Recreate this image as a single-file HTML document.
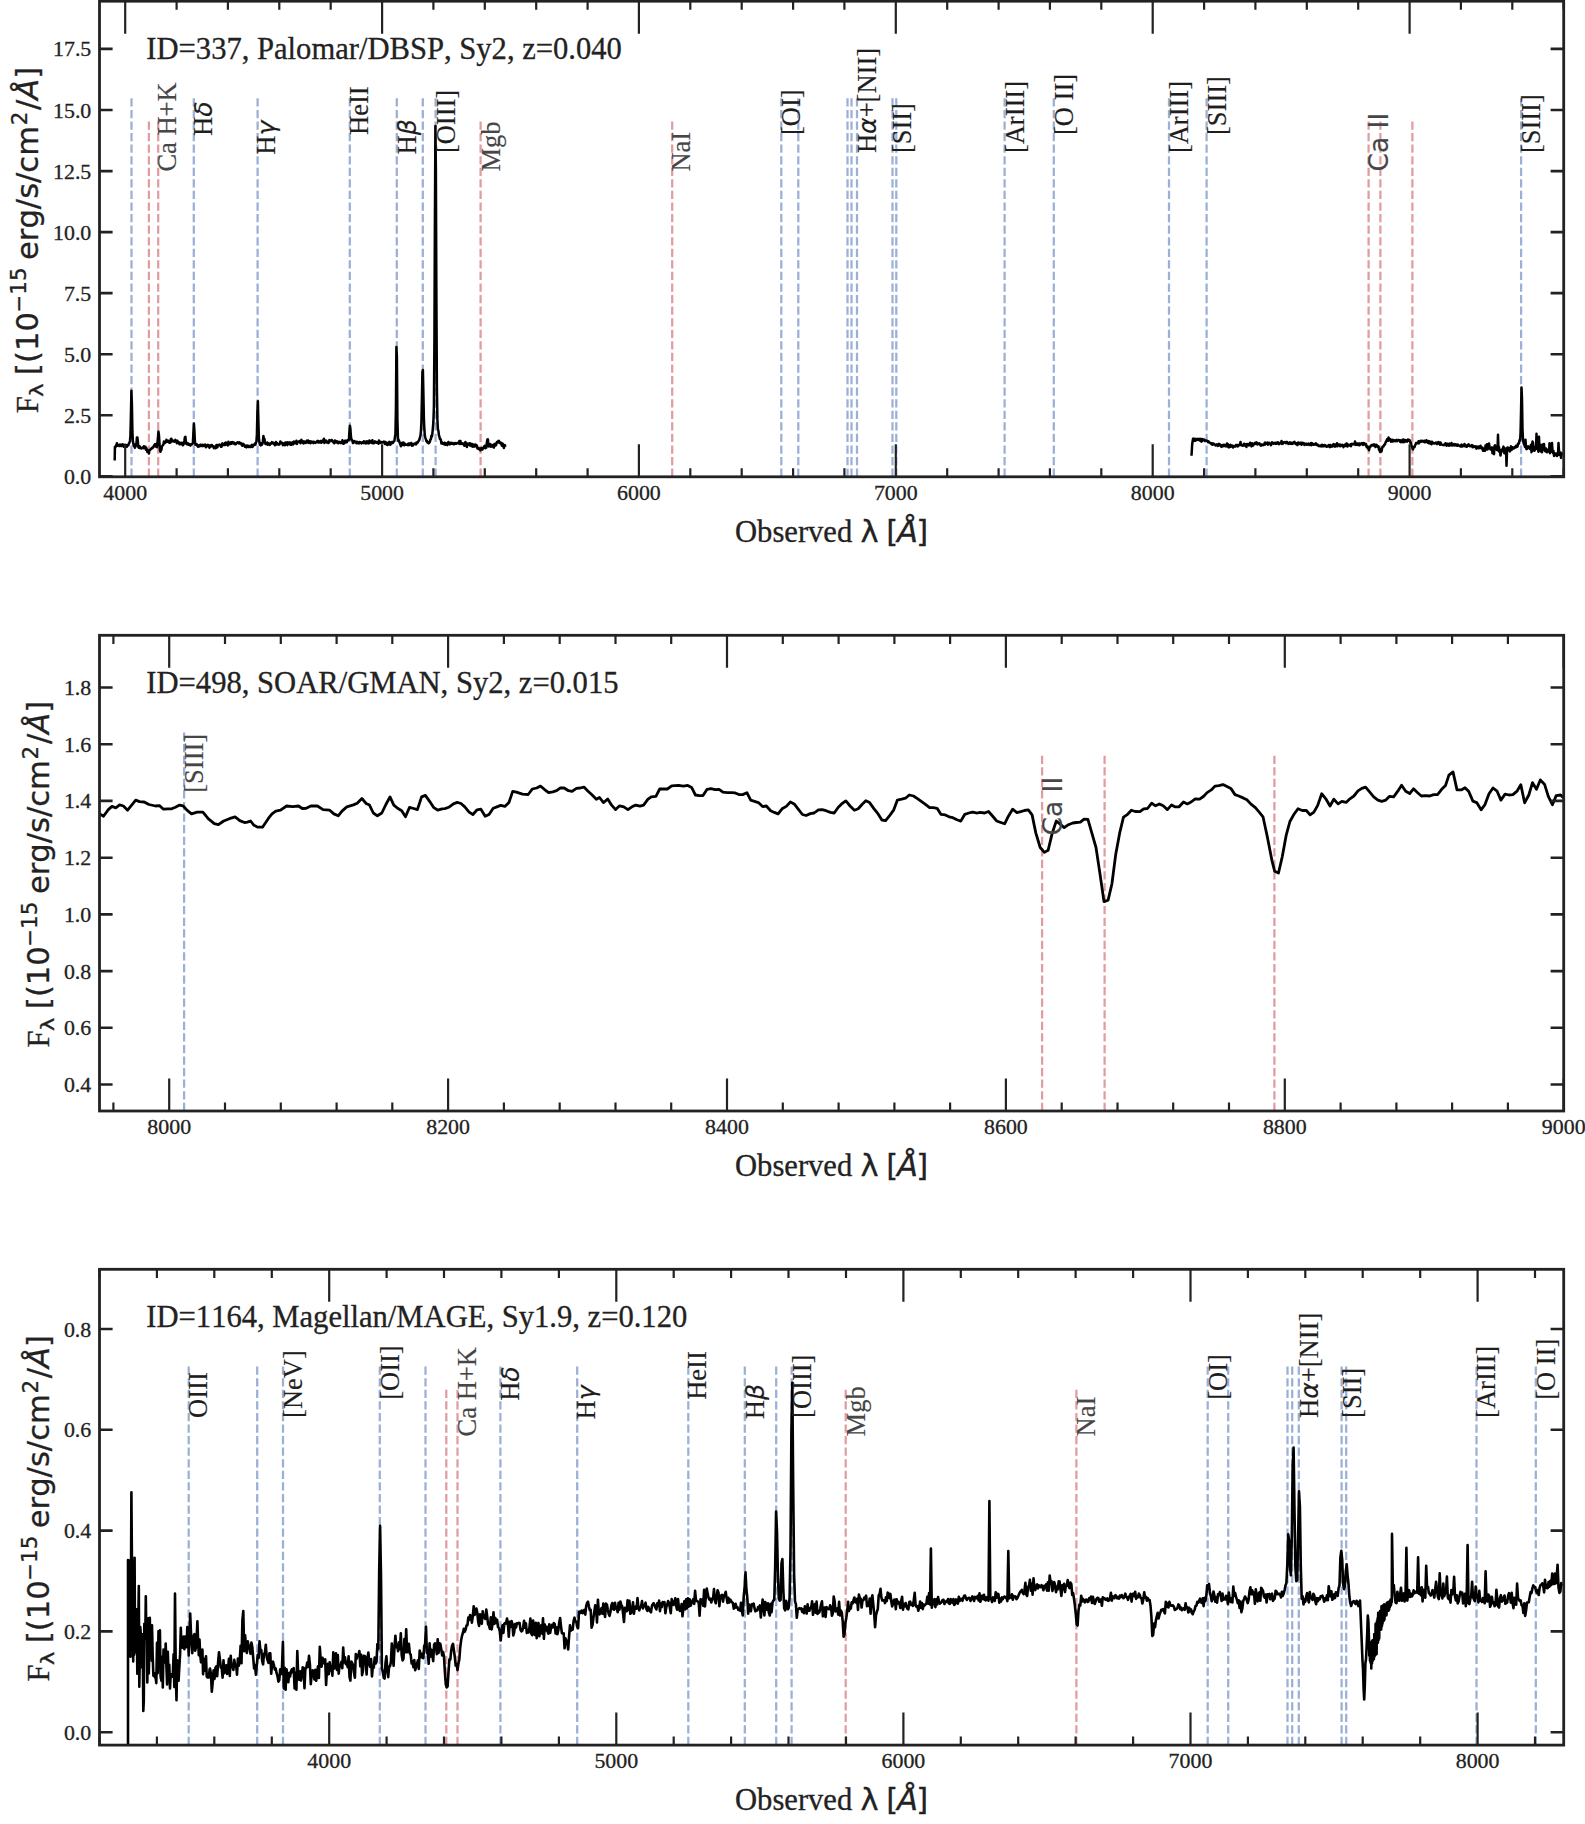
<!DOCTYPE html>
<html lang="en"><head><meta charset="utf-8"><title>Optical spectra</title>
<style>html,body{margin:0;padding:0;background:#fff}svg{display:block}text{fill:#222;stroke:#222;stroke-width:.3px;font-kerning:none}</style></head><body>
<svg width="1585" height="1824" viewBox="0 0 1585 1824">
<rect width="1585" height="1824" fill="#fff"/>
<g id="panel1">
<clipPath id="clip0"><rect x="99.5" y="1.2" width="1464.2" height="475.6"/></clipPath>
<path d="M131.5 476.8 V98.2M193.8 476.8 V98.2M257.6 476.8 V98.2M349.8 476.8 V98.2M396.8 476.8 V98.2M422.8 476.8 V98.2M435.6 476.8 V98.2M781.3 476.8 V98.2M798.3 476.8 V98.2M847.5 476.8 V98.2M851.5 476.8 V98.2M857.0 476.8 V98.2M892.5 476.8 V98.2M896.3 476.8 V98.2M1004.6 476.8 V98.2M1053.8 476.8 V98.2M1169.0 476.8 V98.2M1206.6 476.8 V98.2M1521.1 476.8 V98.2" stroke="#9bb0d6" stroke-width="2.25" stroke-dasharray="8.25 3.32" fill="none"/>
<path d="M148.9 476.8 V120.8M158.2 476.8 V120.8M480.6 476.8 V120.8M672.2 476.8 V120.8M1368.6 476.8 V120.8M1380.4 476.8 V120.8M1412.4 476.8 V120.8" stroke="#e09ca1" stroke-width="2.25" stroke-dasharray="8.25 3.32" fill="none"/>
<path clip-path="url(#clip0)" d="M114.7 460.5L114.9 447.0L115.4 447.4L115.9 445.5L116.4 445.3L116.9 443.3L117.4 445.7L117.9 445.4L118.4 445.1L118.9 445.9L119.4 446.0L119.9 444.6L120.4 444.7L120.9 445.1L121.4 446.1L121.9 446.0L122.4 444.3L122.9 444.4L123.4 446.0L123.9 446.8L124.4 445.3L124.9 444.7L125.4 446.3L125.9 445.0L126.4 446.0L126.9 446.7L127.4 445.7L127.9 445.0L128.4 445.2L128.9 443.3L129.4 442.8L129.9 441.0L130.4 436.3L130.9 415.4L131.4 390.8L131.9 403.7L132.4 431.4L132.9 441.5L133.4 443.9L133.9 446.1L134.4 444.4L134.9 447.7L135.4 446.7L135.9 445.7L136.4 443.8L136.9 437.5L137.4 437.4L137.9 442.1L138.4 447.1L138.9 447.7L139.4 446.2L139.9 446.7L140.4 448.3L140.9 448.2L141.4 448.5L141.9 447.9L142.4 447.7L142.9 447.3L143.4 448.2L143.9 446.3L144.4 447.2L144.9 448.1L145.4 446.7L145.9 449.8L146.4 448.3L146.9 449.4L147.4 452.1L147.9 450.2L148.4 451.2L148.9 453.5L149.4 450.2L149.9 449.8L150.4 449.7L150.9 449.0L151.4 448.6L151.9 447.9L152.4 448.3L152.9 447.5L153.4 446.9L153.9 445.6L154.4 445.5L154.9 444.2L155.4 446.4L155.9 444.0L156.4 446.3L156.9 447.1L157.4 443.3L157.9 438.5L158.4 431.5L158.9 434.4L159.4 442.2L159.9 449.7L160.4 451.7L160.9 450.7L161.4 449.7L161.9 446.2L162.4 445.9L162.9 445.0L163.4 444.5L163.9 441.6L164.4 443.3L164.9 442.4L165.4 442.6L165.9 441.6L166.4 439.8L166.9 440.5L167.4 441.7L167.9 441.0L168.4 440.8L168.9 442.5L169.4 442.8L169.9 440.7L170.4 442.5L170.9 438.9L171.4 438.8L171.9 441.4L172.4 440.4L172.9 441.3L173.4 441.3L173.9 440.9L174.4 441.7L174.9 441.3L175.4 439.9L175.9 441.6L176.4 441.6L176.9 443.2L177.4 440.8L177.9 442.1L178.4 441.9L178.9 442.4L179.4 444.3L179.9 443.4L180.4 442.9L180.9 443.7L181.4 444.3L181.9 442.8L182.4 443.5L182.9 445.2L183.4 444.6L183.9 443.4L184.4 440.8L184.9 437.3L185.4 436.7L185.9 442.9L186.4 444.1L186.9 444.2L187.4 443.0L187.9 443.5L188.4 444.8L188.9 444.7L189.4 444.1L189.9 445.1L190.4 445.6L190.9 444.3L191.4 444.6L191.9 444.4L192.4 443.9L192.9 442.9L193.4 432.3L193.9 423.5L194.4 430.7L194.9 441.2L195.4 444.8L195.9 444.7L196.4 445.2L196.9 444.4L197.4 445.7L197.9 446.7L198.4 446.4L198.9 446.5L199.4 445.1L199.9 445.8L200.4 444.7L200.9 446.0L201.4 444.9L201.9 444.9L202.4 444.8L202.9 446.1L203.4 445.8L203.9 445.8L204.4 444.7L204.9 445.9L205.4 444.6L205.9 447.3L206.4 445.9L206.9 446.3L207.4 446.1L207.9 444.9L208.4 445.1L208.9 446.3L209.4 447.7L209.9 445.4L210.4 445.8L210.9 446.5L211.4 445.0L211.9 445.1L212.4 446.2L212.9 446.6L213.4 446.3L213.9 448.1L214.4 446.6L214.9 447.1L215.4 448.2L215.9 448.1L216.4 445.1L216.9 446.1L217.4 447.3L217.9 444.9L218.4 445.2L218.9 444.8L219.4 444.6L219.9 444.7L220.4 445.8L220.9 446.7L221.4 446.8L221.9 445.3L222.4 443.4L222.9 445.0L223.4 444.7L223.9 445.2L224.4 444.6L224.9 443.0L225.4 444.9L225.9 442.5L226.4 443.7L226.9 444.5L227.4 444.4L227.9 445.4L228.4 441.7L228.9 444.0L229.4 444.2L229.9 443.2L230.4 443.9L230.9 442.3L231.4 443.7L231.9 443.5L232.4 442.1L232.9 442.4L233.4 442.9L233.9 442.5L234.4 444.0L234.9 443.2L235.4 444.3L235.9 444.2L236.4 443.2L236.9 442.9L237.4 442.3L237.9 442.4L238.4 442.4L238.9 443.5L239.4 442.4L239.9 443.3L240.4 443.5L240.9 443.1L241.4 443.6L241.9 445.3L242.4 445.7L242.9 443.8L243.4 444.5L243.9 444.6L244.4 444.9L244.9 446.7L245.4 446.2L245.9 446.9L246.4 447.4L246.9 445.5L247.4 445.7L247.9 446.0L248.4 446.9L248.9 445.9L249.4 446.6L249.9 447.1L250.4 447.1L250.9 446.5L251.4 445.4L251.9 444.8L252.4 447.1L252.9 446.4L253.4 445.0L253.9 445.2L254.4 445.0L254.9 443.5L255.4 444.6L255.9 442.9L256.4 441.7L256.9 434.4L257.4 411.4L257.9 401.3L258.4 421.7L258.9 438.1L259.4 442.3L259.9 444.8L260.4 443.5L260.9 445.4L261.4 443.3L261.9 444.7L262.4 443.8L262.9 441.2L263.4 436.1L263.9 438.6L264.4 438.8L264.9 441.9L265.4 443.9L265.9 444.0L266.4 444.2L266.9 443.7L267.4 442.6L267.9 444.7L268.4 443.1L268.9 444.1L269.4 444.3L269.9 444.9L270.4 443.6L270.9 443.5L271.4 443.6L271.9 442.1L272.4 443.1L272.9 442.9L273.4 442.7L273.9 443.9L274.4 443.5L274.9 445.2L275.4 445.1L275.9 442.1L276.4 443.9L276.9 442.8L277.4 444.2L277.9 443.9L278.4 444.6L278.9 444.0L279.4 444.4L279.9 443.4L280.4 441.4L280.9 442.6L281.4 442.9L281.9 443.3L282.4 442.8L282.9 445.2L283.4 443.5L283.9 444.8L284.4 443.4L284.9 445.2L285.4 442.6L285.9 444.2L286.4 442.5L286.9 444.0L287.4 445.1L287.9 442.2L288.4 442.8L288.9 443.8L289.4 443.5L289.9 442.4L290.4 444.7L290.9 443.7L291.4 444.8L291.9 443.9L292.4 442.4L292.9 442.8L293.4 444.3L293.9 441.6L294.4 442.2L294.9 443.0L295.4 443.2L295.9 442.8L296.4 440.7L296.9 443.9L297.4 441.8L297.9 442.0L298.4 442.0L298.9 441.8L299.4 441.1L299.9 441.7L300.4 443.2L300.9 440.7L301.4 439.8L301.9 442.4L302.4 442.3L302.9 442.6L303.4 443.5L303.9 441.3L304.4 442.1L304.9 442.4L305.4 443.1L305.9 442.9L306.4 441.2L306.9 440.7L307.4 441.7L307.9 440.5L308.4 442.9L308.9 441.6L309.4 441.6L309.9 441.1L310.4 443.3L310.9 442.2L311.4 441.5L311.9 442.5L312.4 441.8L312.9 442.4L313.4 443.1L313.9 441.7L314.4 442.4L314.9 442.3L315.4 442.9L315.9 442.4L316.4 441.9L316.9 441.3L317.4 442.1L317.9 440.9L318.4 442.5L318.9 441.9L319.4 442.4L319.9 441.4L320.4 441.1L320.9 441.0L321.4 442.8L321.9 441.7L322.4 441.6L322.9 440.2L323.4 441.8L323.9 438.7L324.4 443.1L324.9 441.6L325.4 441.8L325.9 440.5L326.4 440.8L326.9 442.4L327.4 441.6L327.9 442.2L328.4 443.0L328.9 442.4L329.4 440.1L329.9 440.9L330.4 440.8L330.9 441.0L331.4 440.0L331.9 440.0L332.4 441.2L332.9 441.4L333.4 442.4L333.9 441.7L334.4 443.3L334.9 440.4L335.4 440.8L335.9 442.3L336.4 441.8L336.9 441.2L337.4 442.8L337.9 443.1L338.4 443.3L338.9 441.8L339.4 442.2L339.9 442.4L340.4 442.3L340.9 443.2L341.4 441.8L341.9 442.6L342.4 440.3L342.9 443.0L343.4 443.8L343.9 442.3L344.4 443.3L344.9 440.8L345.4 442.0L345.9 440.8L346.4 442.3L346.9 442.3L347.4 440.3L347.9 440.4L348.4 440.0L348.9 440.1L349.4 431.3L349.9 425.7L350.4 428.7L350.9 436.0L351.4 439.6L351.9 439.8L352.4 440.8L352.9 443.1L353.4 442.1L353.9 441.7L354.4 441.0L354.9 442.2L355.4 442.3L355.9 441.8L356.4 443.2L356.9 441.8L357.4 442.2L357.9 443.1L358.4 442.6L358.9 443.4L359.4 442.2L359.9 442.0L360.4 442.8L360.9 442.5L361.4 443.4L361.9 442.7L362.4 442.3L362.9 442.8L363.4 442.9L363.9 441.3L364.4 442.2L364.9 442.0L365.4 443.4L365.9 441.9L366.4 443.3L366.9 441.2L367.4 442.3L367.9 443.3L368.4 442.1L368.9 443.4L369.4 440.5L369.9 442.4L370.4 442.5L370.9 442.2L371.4 441.0L371.9 442.9L372.4 440.2L372.9 443.2L373.4 442.6L373.9 443.2L374.4 442.1L374.9 441.3L375.4 441.8L375.9 441.9L376.4 442.8L376.9 442.0L377.4 442.7L377.9 442.7L378.4 443.6L378.9 440.5L379.4 441.9L379.9 442.9L380.4 443.0L380.9 441.9L381.4 442.2L381.9 442.4L382.4 442.6L382.9 442.0L383.4 442.0L383.9 441.6L384.4 442.3L384.9 443.9L385.4 441.9L385.9 443.6L386.4 444.5L386.9 443.0L387.4 445.0L387.9 442.8L388.4 444.5L388.9 442.9L389.4 441.9L389.9 443.4L390.4 444.8L390.9 442.6L391.4 443.5L391.9 442.1L392.4 442.1L392.9 443.0L393.4 441.8L393.9 441.5L394.4 440.9L394.9 437.2L395.4 434.5L395.9 410.5L396.4 347.0L396.9 356.7L397.4 419.2L397.9 437.1L398.4 441.1L398.9 440.3L399.4 442.0L399.9 443.3L400.4 444.6L400.9 446.2L401.4 443.3L401.9 442.9L402.4 444.6L402.9 444.9L403.4 442.4L403.9 443.8L404.4 445.2L404.9 443.8L405.4 444.7L405.9 444.4L406.4 444.8L406.9 444.5L407.4 444.3L407.9 445.2L408.4 443.5L408.9 444.1L409.4 444.9L409.9 443.4L410.4 443.5L410.9 443.2L411.4 443.0L411.9 445.7L412.4 444.3L412.9 445.5L413.4 444.5L413.9 443.9L414.4 443.5L414.9 443.9L415.4 443.6L415.9 444.4L416.4 442.6L416.9 443.2L417.4 443.1L417.9 441.9L418.4 441.1L418.9 440.8L419.4 439.5L419.9 437.5L420.4 435.8L420.9 431.8L421.4 422.4L421.9 398.9L422.4 372.0L422.9 370.0L423.4 393.9L423.9 418.6L424.4 430.2L424.9 436.0L425.4 437.8L425.9 439.3L426.4 441.3L426.9 440.7L427.4 442.3L427.9 442.0L428.4 443.3L428.9 443.3L429.4 442.3L429.9 441.8L430.4 439.4L430.9 439.2L431.4 435.8L431.9 436.5L432.4 433.1L432.9 427.7L433.4 421.7L433.9 406.7L434.4 341.3L434.9 220.6L435.4 126.1L435.9 171.4L436.4 297.6L436.9 388.4L437.4 419.5L437.9 429.3L438.4 430.7L438.9 435.2L439.4 436.5L439.9 439.1L440.4 438.9L440.9 440.1L441.4 443.6L441.9 442.2L442.4 443.4L442.9 443.7L443.4 443.3L443.9 444.3L444.4 442.8L444.9 443.0L445.4 444.8L445.9 443.2L446.4 444.5L446.9 444.4L447.4 445.1L447.9 444.0L448.4 441.9L448.9 442.9L449.4 443.0L449.9 444.4L450.4 443.6L450.9 442.8L451.4 443.7L451.9 442.9L452.4 443.7L452.9 443.4L453.4 444.2L453.9 443.5L454.4 444.1L454.9 443.1L455.4 443.8L455.9 443.0L456.4 443.7L456.9 443.3L457.4 443.0L457.9 442.7L458.4 442.8L458.9 443.5L459.4 441.0L459.9 444.1L460.4 440.9L460.9 443.0L461.4 442.9L461.9 444.0L462.4 443.6L462.9 443.4L463.4 443.6L463.9 444.5L464.4 445.8L464.9 444.1L465.4 442.0L465.9 443.6L466.4 444.4L466.9 447.1L467.4 443.5L467.9 443.9L468.4 444.8L468.9 444.7L469.4 443.3L469.9 445.4L470.4 443.5L470.9 444.6L471.4 446.1L471.9 443.9L472.4 444.9L472.9 446.8L473.4 445.2L473.9 444.6L474.4 445.1L474.9 446.5L475.4 444.4L475.9 445.4L476.4 445.1L476.9 445.8L477.4 448.5L477.9 447.7L478.4 447.9L478.9 449.1L479.4 448.6L479.9 448.6L480.4 450.4L480.9 449.9L481.4 448.0L481.9 449.1L482.4 449.5L482.9 448.3L483.4 448.2L483.9 446.5L484.4 447.4L484.9 445.7L485.4 448.3L485.9 447.0L486.4 447.5L486.9 442.2L487.4 439.6L487.9 439.2L488.4 444.3L488.9 446.4L489.4 446.2L489.9 445.6L490.4 444.1L490.9 446.7L491.4 446.1L491.9 446.4L492.4 446.4L492.9 445.0L493.4 445.6L493.9 447.6L494.4 444.1L494.9 444.9L495.4 443.7L495.9 445.4L496.4 443.6L496.9 442.1L497.4 442.5L497.9 441.8L498.4 441.1L498.9 440.7L499.4 442.6L499.9 442.3L500.4 443.5L500.9 442.6L501.4 443.9L501.9 445.8L502.4 443.5L502.9 443.9L503.4 446.3L503.9 448.0L504.4 445.4L504.9 445.1L505.4 446.8" stroke="#000" stroke-width="2.50" fill="none" stroke-linejoin="round" stroke-linecap="butt"/>
<path clip-path="url(#clip0)" d="M1191.5 455.7L1192.2 444.0L1193.0 439.0L1193.5 438.5L1194.0 440.9L1194.5 438.9L1195.0 439.4L1195.5 440.7L1196.0 438.9L1196.5 439.2L1197.0 439.9L1197.5 439.5L1198.0 438.8L1198.5 439.7L1199.0 439.6L1199.5 440.4L1200.0 438.7L1200.5 439.5L1201.0 441.0L1201.5 441.6L1202.0 438.9L1202.5 440.7L1203.0 439.4L1203.5 439.5L1204.0 439.6L1204.5 440.0L1205.0 441.1L1205.5 440.9L1206.0 440.4L1206.5 440.4L1207.0 441.0L1207.5 441.2L1208.0 442.2L1208.5 441.4L1209.0 442.2L1209.5 442.4L1210.0 442.8L1210.5 443.2L1211.0 443.3L1211.5 444.3L1212.0 443.4L1212.5 444.8L1213.0 443.5L1213.5 443.5L1214.0 444.2L1214.5 444.5L1215.0 444.6L1215.5 445.5L1216.0 445.4L1216.5 445.0L1217.0 444.3L1217.5 444.6L1218.0 445.9L1218.5 445.0L1219.0 443.8L1219.5 444.3L1220.0 444.5L1220.5 445.9L1221.0 445.0L1221.5 446.9L1222.0 445.7L1222.5 445.3L1223.0 444.9L1223.5 446.1L1224.0 445.2L1224.5 444.8L1225.0 445.9L1225.5 445.5L1226.0 446.5L1226.5 445.6L1227.0 443.4L1227.5 446.4L1228.0 444.3L1228.5 447.1L1229.0 447.4L1229.5 445.6L1230.0 445.1L1230.5 444.8L1231.0 446.6L1231.5 445.7L1232.0 445.4L1232.5 445.6L1233.0 447.5L1233.5 446.0L1234.0 446.3L1234.5 446.3L1235.0 446.5L1235.5 446.5L1236.0 445.0L1236.5 445.4L1237.0 444.9L1237.5 444.9L1238.0 446.4L1238.5 445.0L1239.0 445.3L1239.5 444.8L1240.0 444.9L1240.5 441.9L1241.0 444.9L1241.5 444.8L1242.0 445.6L1242.5 445.6L1243.0 445.8L1243.5 445.2L1244.0 443.7L1244.5 445.5L1245.0 445.4L1245.5 445.8L1246.0 444.3L1246.5 446.9L1247.0 443.9L1247.5 445.4L1248.0 444.8L1248.5 444.4L1249.0 445.4L1249.5 444.5L1250.0 442.8L1250.5 443.7L1251.0 445.0L1251.5 446.4L1252.0 443.3L1252.5 444.5L1253.0 445.6L1253.5 444.9L1254.0 444.1L1254.5 443.2L1255.0 442.9L1255.5 443.7L1256.0 444.0L1256.5 442.4L1257.0 442.8L1257.5 444.4L1258.0 443.8L1258.5 443.5L1259.0 443.7L1259.5 443.4L1260.0 444.7L1260.5 445.3L1261.0 445.6L1261.5 444.5L1262.0 444.5L1262.5 445.0L1263.0 445.2L1263.5 445.0L1264.0 444.8L1264.5 443.3L1265.0 442.5L1265.5 444.4L1266.0 443.6L1266.5 443.6L1267.0 442.9L1267.5 442.6L1268.0 444.7L1268.5 443.9L1269.0 442.7L1269.5 443.8L1270.0 443.7L1270.5 443.9L1271.0 445.2L1271.5 443.4L1272.0 442.4L1272.5 443.4L1273.0 442.8L1273.5 443.8L1274.0 443.5L1274.5 443.6L1275.0 442.8L1275.5 443.6L1276.0 442.8L1276.5 443.6L1277.0 442.9L1277.5 442.2L1278.0 443.5L1278.5 442.5L1279.0 444.2L1279.5 443.4L1280.0 443.4L1280.5 443.1L1281.0 442.9L1281.5 441.0L1282.0 443.9L1282.5 442.2L1283.0 443.6L1283.5 442.3L1284.0 442.7L1284.5 442.6L1285.0 442.0L1285.5 442.7L1286.0 443.3L1286.5 442.6L1287.0 441.9L1287.5 442.5L1288.0 443.2L1288.5 443.9L1289.0 443.7L1289.5 443.3L1290.0 442.3L1290.5 443.8L1291.0 443.1L1291.5 442.9L1292.0 443.9L1292.5 443.7L1293.0 443.6L1293.5 442.3L1294.0 442.7L1294.5 441.9L1295.0 443.4L1295.5 443.3L1296.0 444.1L1296.5 443.5L1297.0 443.1L1297.5 445.1L1298.0 442.6L1298.5 442.4L1299.0 443.0L1299.5 443.9L1300.0 443.2L1300.5 443.2L1301.0 442.7L1301.5 444.8L1302.0 443.2L1302.5 442.9L1303.0 443.7L1303.5 443.2L1304.0 443.7L1304.5 445.0L1305.0 443.6L1305.5 443.9L1306.0 443.7L1306.5 443.9L1307.0 444.8L1307.5 444.6L1308.0 443.9L1308.5 443.5L1309.0 444.2L1309.5 445.0L1310.0 444.3L1310.5 444.3L1311.0 443.0L1311.5 445.3L1312.0 443.3L1312.5 443.6L1313.0 444.3L1313.5 444.7L1314.0 444.7L1314.5 444.1L1315.0 444.5L1315.5 444.4L1316.0 443.4L1316.5 444.7L1317.0 444.4L1317.5 445.3L1318.0 444.9L1318.5 445.9L1319.0 445.7L1319.5 445.9L1320.0 446.2L1320.5 445.8L1321.0 445.2L1321.5 446.4L1322.0 444.7L1322.5 445.4L1323.0 446.2L1323.5 445.3L1324.0 446.1L1324.5 445.0L1325.0 445.2L1325.5 446.1L1326.0 446.3L1326.5 446.7L1327.0 445.8L1327.5 446.1L1328.0 446.4L1328.5 446.3L1329.0 445.0L1329.5 445.5L1330.0 447.1L1330.5 444.9L1331.0 446.4L1331.5 445.5L1332.0 446.6L1332.5 445.2L1333.0 445.8L1333.5 444.1L1334.0 445.7L1334.5 446.5L1335.0 444.4L1335.5 446.5L1336.0 445.0L1336.5 445.5L1337.0 443.3L1337.5 446.3L1338.0 444.7L1338.5 445.0L1339.0 444.4L1339.5 444.5L1340.0 446.2L1340.5 444.9L1341.0 446.0L1341.5 445.1L1342.0 445.5L1342.5 444.8L1343.0 445.5L1343.5 447.2L1344.0 445.6L1344.5 445.4L1345.0 444.6L1345.5 445.8L1346.0 446.0L1346.5 443.5L1347.0 443.7L1347.5 446.5L1348.0 445.1L1348.5 444.8L1349.0 445.1L1349.5 445.5L1350.0 445.2L1350.5 444.4L1351.0 446.2L1351.5 444.5L1352.0 443.7L1352.5 444.0L1353.0 444.3L1353.5 444.0L1354.0 444.1L1354.5 444.5L1355.0 441.6L1355.5 443.5L1356.0 444.9L1356.5 444.5L1357.0 443.5L1357.5 443.5L1358.0 444.9L1358.5 443.7L1359.0 443.5L1359.5 445.3L1360.0 443.5L1360.5 444.4L1361.0 443.8L1361.5 443.9L1362.0 443.1L1362.5 443.3L1363.0 445.0L1363.5 443.1L1364.0 444.2L1364.5 443.4L1365.0 444.5L1365.5 444.9L1366.0 444.0L1366.5 446.7L1367.0 446.2L1367.5 448.0L1368.0 446.9L1368.5 449.0L1369.0 450.2L1369.5 447.8L1370.0 446.5L1370.5 446.7L1371.0 445.7L1371.5 445.0L1372.0 445.1L1372.5 444.7L1373.0 445.5L1373.5 444.8L1374.0 444.4L1374.5 445.7L1375.0 444.9L1375.5 447.1L1376.0 444.8L1376.5 444.9L1377.0 445.4L1377.5 446.6L1378.0 446.2L1378.5 446.4L1379.0 449.8L1379.5 448.5L1380.0 451.8L1380.5 451.7L1381.0 450.4L1381.5 451.4L1382.0 448.7L1382.5 446.9L1383.0 446.5L1383.5 446.5L1384.0 445.3L1384.5 444.6L1385.0 444.5L1385.5 442.5L1386.0 441.8L1386.5 440.8L1387.0 439.3L1387.5 439.9L1388.0 440.8L1388.5 437.6L1389.0 440.3L1389.5 439.7L1390.0 439.0L1390.5 440.0L1391.0 441.6L1391.5 439.9L1392.0 441.2L1392.5 441.5L1393.0 439.9L1393.5 441.2L1394.0 441.1L1394.5 440.3L1395.0 441.3L1395.5 440.5L1396.0 440.3L1396.5 439.8L1397.0 441.2L1397.5 440.5L1398.0 440.5L1398.5 440.0L1399.0 439.9L1399.5 440.3L1400.0 441.6L1400.5 440.3L1401.0 442.1L1401.5 441.2L1402.0 441.0L1402.5 439.8L1403.0 442.3L1403.5 439.6L1404.0 441.1L1404.5 442.0L1405.0 440.5L1405.5 440.0L1406.0 440.5L1406.5 441.2L1407.0 441.6L1407.5 440.9L1408.0 439.5L1408.5 440.1L1409.0 441.0L1409.5 440.0L1410.0 441.1L1410.5 443.3L1411.0 442.5L1411.5 446.1L1412.0 446.3L1412.5 448.6L1413.0 449.5L1413.5 447.2L1414.0 447.1L1414.5 447.1L1415.0 445.5L1415.5 444.6L1416.0 443.0L1416.5 443.2L1417.0 443.1L1417.5 443.1L1418.0 443.3L1418.5 441.3L1419.0 443.4L1419.5 441.8L1420.0 441.7L1420.5 440.9L1421.0 441.7L1421.5 441.6L1422.0 440.7L1422.5 441.4L1423.0 441.6L1423.5 441.1L1424.0 442.0L1424.5 440.7L1425.0 442.3L1425.5 441.5L1426.0 442.0L1426.5 440.3L1427.0 442.0L1427.5 441.9L1428.0 442.8L1428.5 441.1L1429.0 443.3L1429.5 441.4L1430.0 443.4L1430.5 442.9L1431.0 441.9L1431.5 444.3L1432.0 441.7L1432.5 442.6L1433.0 442.9L1433.5 443.3L1434.0 443.1L1434.5 443.6L1435.0 443.4L1435.5 443.2L1436.0 442.5L1436.5 443.0L1437.0 444.1L1437.5 442.5L1438.0 443.6L1438.5 442.0L1439.0 443.1L1439.5 442.5L1440.0 444.8L1440.5 442.5L1441.0 443.8L1441.5 444.6L1442.0 444.6L1442.5 444.8L1443.0 445.1L1443.5 444.8L1444.0 445.1L1444.5 444.5L1445.0 444.6L1445.5 443.2L1446.0 444.8L1446.5 445.7L1447.0 444.1L1447.5 443.8L1448.0 444.8L1448.5 445.6L1449.0 445.7L1449.5 443.6L1450.0 445.2L1450.5 444.3L1451.0 445.1L1451.5 443.0L1452.0 445.6L1452.5 444.6L1453.0 445.1L1453.5 444.8L1454.0 444.1L1454.5 445.4L1455.0 444.6L1455.5 444.4L1456.0 445.5L1456.5 445.0L1457.0 444.5L1457.5 445.8L1458.0 444.6L1458.5 445.1L1459.0 445.7L1459.5 445.9L1460.0 446.1L1460.5 446.5L1461.0 445.2L1461.5 444.6L1462.0 446.6L1462.5 446.4L1463.0 445.0L1463.5 445.9L1464.0 445.0L1464.5 444.1L1465.0 446.2L1465.5 445.7L1466.0 445.5L1466.5 446.8L1467.0 446.7L1467.5 445.1L1468.0 444.8L1468.5 444.2L1469.0 445.8L1469.5 445.6L1470.0 446.3L1470.5 446.1L1471.0 445.6L1471.5 445.9L1472.0 445.0L1472.5 447.3L1473.0 446.0L1473.5 447.0L1474.0 446.0L1474.5 446.7L1475.0 447.2L1475.5 446.5L1476.0 446.2L1476.5 448.8L1477.0 446.8L1477.5 447.5L1478.0 447.0L1478.5 446.6L1479.0 448.3L1479.5 447.6L1480.0 447.7L1480.5 445.7L1481.0 447.8L1481.5 448.4L1482.0 448.5L1482.5 447.6L1483.0 450.8L1483.5 448.7L1484.0 449.6L1484.5 450.7L1485.0 450.8L1485.5 445.5L1486.0 449.4L1486.5 447.0L1487.0 444.3L1487.5 449.6L1488.0 445.1L1488.5 448.1L1489.0 443.5L1489.5 447.0L1490.0 448.4L1490.5 449.5L1491.0 448.4L1491.5 447.5L1492.0 447.6L1492.5 453.3L1493.0 448.7L1493.5 449.6L1494.0 454.2L1494.5 445.9L1495.0 445.2L1495.5 447.7L1496.0 449.2L1496.5 447.5L1497.0 450.1L1497.5 450.0L1498.0 434.7L1498.5 450.7L1499.0 447.1L1499.5 452.1L1500.0 451.0L1500.5 455.5L1501.0 452.2L1501.5 449.8L1502.0 451.0L1502.5 450.4L1503.0 448.3L1503.5 446.6L1504.0 452.4L1504.5 453.3L1505.0 448.7L1505.5 449.1L1506.0 448.5L1506.5 465.8L1507.0 452.2L1507.5 447.4L1508.0 448.5L1508.5 448.0L1509.0 449.6L1509.5 450.8L1510.0 451.4L1510.5 448.2L1511.0 446.4L1511.5 449.7L1512.0 449.6L1512.5 447.3L1513.0 448.3L1513.5 448.6L1514.0 448.4L1514.5 447.4L1515.0 447.7L1515.5 447.1L1516.0 445.7L1516.5 447.1L1517.0 446.0L1517.5 446.6L1518.0 443.8L1518.5 443.4L1519.0 443.5L1519.5 440.2L1520.0 440.3L1520.5 434.7L1521.0 413.3L1521.5 387.4L1522.0 398.8L1522.5 429.2L1523.0 439.5L1523.5 442.6L1524.0 444.3L1524.5 444.3L1525.0 447.1L1525.5 439.8L1526.0 447.4L1526.5 449.1L1527.0 448.9L1527.5 447.5L1528.0 446.3L1528.5 446.4L1529.0 447.4L1529.5 448.5L1530.0 448.9L1530.5 447.4L1531.0 444.7L1531.5 452.2L1532.0 445.9L1532.5 441.6L1533.0 442.5L1533.5 450.6L1534.0 448.8L1534.5 450.7L1535.0 449.6L1535.5 446.6L1536.0 449.0L1536.5 433.8L1537.0 447.3L1537.5 446.9L1538.0 449.5L1538.5 451.8L1539.0 436.8L1539.5 450.5L1540.0 444.4L1540.5 447.0L1541.0 451.0L1541.5 452.1L1542.0 452.2L1542.5 444.6L1543.0 446.2L1543.5 449.0L1544.0 444.1L1544.5 450.0L1545.0 451.1L1545.5 449.8L1546.0 448.5L1546.5 451.9L1547.0 452.3L1547.5 451.4L1548.0 449.8L1548.5 451.5L1549.0 451.7L1549.5 443.3L1550.0 453.2L1550.5 451.8L1551.0 448.5L1551.5 451.5L1552.0 443.1L1552.5 451.3L1553.0 453.0L1553.5 451.0L1554.0 456.0L1554.5 453.8L1555.0 453.3L1555.5 455.0L1556.0 455.1L1556.5 453.6L1557.0 456.0L1557.5 455.3L1558.0 454.3L1558.5 443.0L1559.0 451.4L1559.5 454.7L1560.0 454.8L1560.5 452.5L1561.0 457.9L1561.5 454.8L1562.0 452.3" stroke="#000" stroke-width="2.50" fill="none" stroke-linejoin="round" stroke-linecap="butt"/>
<text transform="translate(176.3 171.6) rotate(-90)" font-family="'Liberation Serif','Times New Roman',serif" font-size="26.5" style="fill:#464646;stroke:#464646;stroke-width:.15px">Ca H+K</text>
<text transform="translate(212.4 136.0) rotate(-90)" font-family="'Liberation Serif','Times New Roman',serif" font-size="26.5" style="fill:#1e1e1e;stroke:#1e1e1e;stroke-width:.15px">H<tspan font-family="'DejaVu Sans','Liberation Sans',sans-serif" font-style="italic" font-size="25.2">δ</tspan></text>
<text transform="translate(274.9 154.7) rotate(-90)" font-family="'Liberation Serif','Times New Roman',serif" font-size="26.5" style="fill:#1e1e1e;stroke:#1e1e1e;stroke-width:.15px">H<tspan font-family="'DejaVu Sans','Liberation Sans',sans-serif" font-style="italic" font-size="25.2">γ</tspan></text>
<text transform="translate(367.9 135.0) rotate(-90)" font-family="'Liberation Serif','Times New Roman',serif" font-size="26.5" style="fill:#1e1e1e;stroke:#1e1e1e;stroke-width:.15px">HeII</text>
<text transform="translate(416.3 154.4) rotate(-90)" font-family="'Liberation Serif','Times New Roman',serif" font-size="26.5" style="fill:#1e1e1e;stroke:#1e1e1e;stroke-width:.15px">H<tspan font-family="'DejaVu Sans','Liberation Sans',sans-serif" font-style="italic" font-size="25.2">β</tspan></text>
<text transform="translate(454.5 153.1) rotate(-90)" font-family="'Liberation Serif','Times New Roman',serif" font-size="26.5" style="fill:#1e1e1e;stroke:#1e1e1e;stroke-width:.15px">[OIII]</text>
<text transform="translate(499.5 171.6) rotate(-90)" font-family="'Liberation Serif','Times New Roman',serif" font-size="26.5" style="fill:#464646;stroke:#464646;stroke-width:.15px">Mgb</text>
<text transform="translate(690.3 171.6) rotate(-90)" font-family="'Liberation Serif','Times New Roman',serif" font-size="26.5" style="fill:#464646;stroke:#464646;stroke-width:.15px">NaI</text>
<text transform="translate(800.2 135.0) rotate(-90)" font-family="'Liberation Serif','Times New Roman',serif" font-size="26.5" style="fill:#1e1e1e;stroke:#1e1e1e;stroke-width:.15px">[OI]</text>
<text transform="translate(875.9 153.1) rotate(-90)" font-family="'Liberation Serif','Times New Roman',serif" font-size="26.5" style="fill:#1e1e1e;stroke:#1e1e1e;stroke-width:.15px">H<tspan font-family="'DejaVu Sans','Liberation Sans',sans-serif" font-style="italic" font-size="25.2">α</tspan>+[NII]</text>
<text transform="translate(911.4 153.1) rotate(-90)" font-family="'Liberation Serif','Times New Roman',serif" font-size="26.5" style="fill:#1e1e1e;stroke:#1e1e1e;stroke-width:.15px">[SII]</text>
<text transform="translate(1023.5 153.1) rotate(-90)" font-family="'Liberation Serif','Times New Roman',serif" font-size="26.5" style="fill:#1e1e1e;stroke:#1e1e1e;stroke-width:.15px">[ArIII]</text>
<text transform="translate(1072.7 135.0) rotate(-90)" font-family="'Liberation Serif','Times New Roman',serif" font-size="26.5" style="fill:#1e1e1e;stroke:#1e1e1e;stroke-width:.15px">[O II]</text>
<text transform="translate(1187.9 153.1) rotate(-90)" font-family="'Liberation Serif','Times New Roman',serif" font-size="26.5" style="fill:#1e1e1e;stroke:#1e1e1e;stroke-width:.15px">[ArIII]</text>
<text transform="translate(1225.5 135.0) rotate(-90)" font-family="'Liberation Serif','Times New Roman',serif" font-size="26.5" style="fill:#1e1e1e;stroke:#1e1e1e;stroke-width:.15px">[SIII]</text>
<text transform="translate(1388.2 171.6) rotate(-90)" font-family="'DejaVu Sans','Liberation Sans',sans-serif" font-size="26.5" style="fill:#464646;stroke:#464646;stroke-width:.15px">Ca II</text>
<text transform="translate(1540.0 153.1) rotate(-90)" font-family="'Liberation Serif','Times New Roman',serif" font-size="26.5" style="fill:#1e1e1e;stroke:#1e1e1e;stroke-width:.15px">[SIII]</text>
<rect x="99.5" y="1.2" width="1464.2" height="475.6" fill="none" stroke="#222" stroke-width="2.8"/>
<path d="M125.2 476.8 v-32.5M125.2 1.2 v32.5M382.1 476.8 v-32.5M382.1 1.2 v32.5M638.9 476.8 v-32.5M638.9 1.2 v32.5M895.8 476.8 v-32.5M895.8 1.2 v32.5M1152.7 476.8 v-32.5M1152.7 1.2 v32.5M1409.6 476.8 v-32.5M1409.6 1.2 v32.5" stroke="#222" stroke-width="2.2" fill="none"/>
<path d="M176.6 476.8 v-8.6M176.6 1.2 v8.6M227.9 476.8 v-8.6M227.9 1.2 v8.6M279.3 476.8 v-8.6M279.3 1.2 v8.6M330.7 476.8 v-8.6M330.7 1.2 v8.6M433.4 476.8 v-8.6M433.4 1.2 v8.6M484.8 476.8 v-8.6M484.8 1.2 v8.6M536.2 476.8 v-8.6M536.2 1.2 v8.6M587.6 476.8 v-8.6M587.6 1.2 v8.6M690.3 476.8 v-8.6M690.3 1.2 v8.6M741.7 476.8 v-8.6M741.7 1.2 v8.6M793.1 476.8 v-8.6M793.1 1.2 v8.6M844.4 476.8 v-8.6M844.4 1.2 v8.6M947.2 476.8 v-8.6M947.2 1.2 v8.6M998.6 476.8 v-8.6M998.6 1.2 v8.6M1049.9 476.8 v-8.6M1049.9 1.2 v8.6M1101.3 476.8 v-8.6M1101.3 1.2 v8.6M1204.1 476.8 v-8.6M1204.1 1.2 v8.6M1255.4 476.8 v-8.6M1255.4 1.2 v8.6M1306.8 476.8 v-8.6M1306.8 1.2 v8.6M1358.2 476.8 v-8.6M1358.2 1.2 v8.6M1460.9 476.8 v-8.6M1460.9 1.2 v8.6M1512.3 476.8 v-8.6M1512.3 1.2 v8.6M1563.7 476.8 v-8.6M1563.7 1.2 v8.6" stroke="#222" stroke-width="2.2" fill="none"/>
<text x="125.2" y="500.1" font-family="'Liberation Serif','Times New Roman',serif" font-size="21.9" text-anchor="middle">4000</text>
<text x="382.1" y="500.1" font-family="'Liberation Serif','Times New Roman',serif" font-size="21.9" text-anchor="middle">5000</text>
<text x="638.9" y="500.1" font-family="'Liberation Serif','Times New Roman',serif" font-size="21.9" text-anchor="middle">6000</text>
<text x="895.8" y="500.1" font-family="'Liberation Serif','Times New Roman',serif" font-size="21.9" text-anchor="middle">7000</text>
<text x="1152.7" y="500.1" font-family="'Liberation Serif','Times New Roman',serif" font-size="21.9" text-anchor="middle">8000</text>
<text x="1409.6" y="500.1" font-family="'Liberation Serif','Times New Roman',serif" font-size="21.9" text-anchor="middle">9000</text>
<text x="91.3" y="483.8" font-family="'Liberation Serif','Times New Roman',serif" font-size="21.9" text-anchor="end">0.0</text>
<text x="91.3" y="422.8" font-family="'Liberation Serif','Times New Roman',serif" font-size="21.9" text-anchor="end">2.5</text>
<text x="91.3" y="361.7" font-family="'Liberation Serif','Times New Roman',serif" font-size="21.9" text-anchor="end">5.0</text>
<text x="91.3" y="300.6" font-family="'Liberation Serif','Times New Roman',serif" font-size="21.9" text-anchor="end">7.5</text>
<text x="91.3" y="239.6" font-family="'Liberation Serif','Times New Roman',serif" font-size="21.9" text-anchor="end">10.0</text>
<text x="91.3" y="178.6" font-family="'Liberation Serif','Times New Roman',serif" font-size="21.9" text-anchor="end">12.5</text>
<text x="91.3" y="117.5" font-family="'Liberation Serif','Times New Roman',serif" font-size="21.9" text-anchor="end">15.0</text>
<text x="91.3" y="56.4" font-family="'Liberation Serif','Times New Roman',serif" font-size="21.9" text-anchor="end">17.5</text>
<path d="M99.5 476.3 h13.1M1563.7 476.3 h-13.1M99.5 415.2 h13.1M1563.7 415.2 h-13.1M99.5 354.2 h13.1M1563.7 354.2 h-13.1M99.5 293.1 h13.1M1563.7 293.1 h-13.1M99.5 232.1 h13.1M1563.7 232.1 h-13.1M99.5 171.1 h13.1M1563.7 171.1 h-13.1M99.5 110.0 h13.1M1563.7 110.0 h-13.1M99.5 48.9 h13.1M1563.7 48.9 h-13.1" stroke="#222" stroke-width="2.6" fill="none"/>
<text x="146.3" y="58.5" font-family="'Liberation Serif','Times New Roman',serif" font-size="30.6">ID=337, Palomar/DBSP, Sy2, z=0.040</text>
<text y="541.7" font-size="30.6" font-family="'Liberation Serif','Times New Roman',serif"><tspan x="735.0">Observed</tspan><tspan font-family="'DejaVu Sans','Liberation Sans',sans-serif"><tspan x="860.4">λ</tspan><tspan x="886.2">[</tspan><tspan x="896.9" font-style="italic">Å</tspan><tspan x="916.2">]</tspan></tspan></text>
<text transform="translate(38.0 413.3) rotate(-90)" font-size="30.6" font-family="'Liberation Serif','Times New Roman',serif">F</text>
<text transform="translate(42.9 397.1) rotate(-90) scale(1.33 1)" font-size="17.5" font-family="'DejaVu Sans','Liberation Sans',sans-serif">λ</text>
<text transform="translate(38.0 374.9) rotate(-90)" font-size="30.6" font-family="'DejaVu Sans','Liberation Sans',sans-serif">[(10</text>
<text transform="translate(25.8 312.6) rotate(-90)" font-size="21.4" font-family="'DejaVu Sans','Liberation Sans',sans-serif">−15</text>
<text transform="translate(38.0 260.0) rotate(-90)" font-size="30.6" font-family="'DejaVu Sans','Liberation Sans',sans-serif">erg/s/cm</text>
<text transform="translate(26.6 125.2) rotate(-90)" font-size="21.4" font-family="'DejaVu Sans','Liberation Sans',sans-serif">2</text>
<text transform="translate(38.0 110.0) rotate(-90)" font-size="30.6" font-family="'DejaVu Sans','Liberation Sans',sans-serif">/<tspan font-style="italic">Å</tspan>]</text>
</g>
<g id="panel2">
<clipPath id="clip1"><rect x="99.5" y="635.3" width="1464.2" height="475.7"/></clipPath>
<path d="M184.1 1111.0 V732.4" stroke="#9bb0d6" stroke-width="2.25" stroke-dasharray="8.25 3.32" fill="none"/>
<path d="M1042.1 1111.0 V755.0M1104.6 1111.0 V755.0M1274.4 1111.0 V755.0" stroke="#e09ca1" stroke-width="2.25" stroke-dasharray="8.25 3.32" fill="none"/>
<path clip-path="url(#clip1)" d="M99.7 813.9L103.5 816.2L108.3 809.6L112.0 806.4L115.8 807.9L119.6 804.9L123.4 806.0L127.6 810.2L135.7 800.1L139.5 801.6L144.2 802.0L148.9 804.5L155.6 806.0L159.4 805.6L163.5 809.2L167.9 808.8L171.7 808.8L175.4 807.3L179.6 805.1L183.0 805.8L187.2 810.4L191.5 813.9L197.2 812.1L202.9 812.2L208.2 818.7L214.3 823.6L218.4 824.7L223.7 821.0L229.4 818.7L235.1 816.8L239.8 820.6L244.5 822.5L247.4 822.1L250.6 821.0L254.0 825.3L257.8 827.2L262.5 827.2L268.2 818.7L272.0 813.9L275.8 811.1L280.5 810.2L286.6 806.0L292.8 806.6L298.5 806.0L302.3 808.5L306.1 808.3L310.8 806.0L317.4 806.0L323.1 809.6L329.7 810.2L333.9 813.9L338.2 815.8L342.0 811.1L346.8 806.9L353.4 804.9L357.2 803.2L361.9 798.4L366.1 803.5L369.5 805.1L373.3 813.0L377.4 815.8L381.8 813.0L385.9 804.5L390.0 796.9L393.8 805.1L397.6 808.3L401.7 810.7L405.5 816.8L409.5 807.3L413.7 808.5L417.4 809.6L421.6 796.9L425.4 795.4L429.8 801.6L433.5 807.3L437.7 810.2L442.1 808.8L444.9 808.6L448.7 807.3L453.4 803.9L457.2 802.4L461.0 803.5L464.8 806.9L469.1 812.1L472.9 814.5L477.1 809.8L480.9 809.2L485.2 816.2L489.0 814.5L493.2 808.3L496.9 806.9L500.7 805.4L504.9 806.4L508.9 802.6L512.7 791.4L516.4 792.2L522.5 794.1L528.2 794.5L532.3 789.0L536.7 788.0L540.5 786.1L544.3 789.3L548.6 792.7L552.8 791.8L556.6 790.7L560.4 787.8L564.1 788.0L568.5 790.7L572.1 791.4L576.4 788.4L580.2 788.0L584.0 787.1L587.8 790.9L592.2 795.0L596.3 799.2L599.5 797.5L603.5 802.6L607.7 799.0L611.8 805.4L615.6 809.6L619.6 805.8L623.8 806.9L627.9 809.6L631.9 806.8L635.7 805.1L639.9 806.2L643.6 805.1L647.8 799.4L651.2 796.9L655.9 796.3L659.7 789.0L663.5 788.8L667.3 789.0L671.7 785.9L674.9 785.7L678.7 785.4L683.4 786.1L687.8 785.4L691.6 787.4L695.4 795.0L699.2 795.6L703.0 795.6L707.1 789.3L710.9 788.6L715.3 789.7L719.1 789.3L722.9 792.2L727.0 792.6L731.4 792.6L735.2 792.9L738.9 794.6L742.7 794.6L746.9 792.7L750.7 800.1L754.5 801.3L758.4 802.6L762.6 806.6L766.4 806.0L770.6 810.7L774.3 812.4L778.1 813.9L782.1 808.8L786.3 806.4L790.4 802.0L794.2 803.9L798.6 809.6L802.4 814.5L806.1 815.5L810.3 813.6L814.1 813.0L818.4 809.8L822.2 809.6L826.0 810.7L830.4 812.4L834.2 813.0L838.3 807.3L842.1 803.5L845.9 800.9L850.1 806.0L854.4 810.2L858.2 808.8L862.0 804.5L865.8 800.7L869.6 802.6L873.9 808.6L878.1 813.9L881.9 820.0L885.6 820.6L889.8 815.3L893.6 810.2L897.4 800.1L901.7 799.2L905.5 798.2L909.3 795.0L913.5 796.0L917.8 798.8L921.6 801.6L925.8 804.7L929.6 807.7L933.3 807.7L937.1 808.3L940.9 814.3L945.3 814.9L949.1 816.8L952.8 817.7L957.0 819.8L960.8 821.1L964.8 814.3L968.9 813.0L972.7 812.1L977.4 813.0L980.0 812.4L984.7 813.0L988.5 811.5L992.3 815.8L996.7 821.0L1000.8 822.5L1004.6 823.8L1008.4 816.2L1012.6 809.2L1016.9 812.6L1020.7 811.7L1024.5 810.5L1028.3 809.8L1032.1 814.9L1035.8 832.9L1040.2 847.5L1044.4 852.4L1048.1 850.3L1052.3 832.9L1056.3 821.0L1060.4 824.4L1064.2 827.6L1068.4 824.7L1072.8 823.0L1076.5 822.5L1080.3 822.1L1084.1 819.1L1087.9 819.4L1092.1 833.8L1096.0 847.5L1099.8 872.6L1104.0 901.6L1108.1 900.1L1111.9 884.0L1115.7 854.6L1119.7 832.9L1123.5 817.2L1127.6 814.3L1131.4 810.2L1135.2 811.5L1139.9 811.7L1143.7 808.8L1147.5 808.5L1151.7 803.2L1155.5 805.8L1159.4 803.9L1163.2 805.8L1167.4 809.6L1171.6 804.9L1175.3 806.9L1179.1 806.8L1183.5 802.0L1187.3 803.9L1191.1 802.0L1195.2 798.8L1199.6 799.2L1203.4 796.5L1207.1 792.6L1211.3 789.9L1215.1 786.1L1218.9 785.7L1223.0 784.6L1227.0 786.5L1230.8 788.4L1235.0 794.6L1238.8 796.0L1243.1 797.9L1246.9 799.8L1250.7 803.9L1255.4 807.7L1259.2 812.1L1263.0 816.8L1267.1 835.7L1271.9 860.3L1274.7 871.3L1278.5 873.0L1282.3 856.5L1286.1 835.7L1289.9 821.5L1294.0 814.3L1298.0 808.8L1302.2 810.5L1306.3 810.5L1310.1 814.9L1313.9 812.1L1317.7 805.4L1321.7 793.7L1325.8 798.8L1330.0 806.0L1333.8 799.2L1338.1 803.9L1341.9 801.3L1346.1 802.4L1349.9 798.8L1353.9 796.0L1358.0 790.9L1361.8 788.4L1365.6 787.1L1369.8 792.2L1373.7 796.9L1377.9 800.1L1381.7 801.3L1385.8 800.1L1389.6 796.3L1393.6 796.9L1397.8 791.2L1401.6 785.2L1405.7 791.2L1409.7 793.5L1413.5 788.8L1417.6 792.7L1421.4 796.0L1425.6 795.6L1429.6 796.0L1433.7 794.6L1437.5 794.6L1441.7 789.3L1445.5 785.6L1448.9 775.1L1453.0 771.9L1457.0 789.9L1461.2 789.9L1465.0 787.8L1468.8 791.6L1472.9 801.1L1476.7 802.6L1481.1 809.8L1484.8 804.9L1489.0 793.7L1493.0 788.0L1497.1 791.2L1500.9 800.1L1505.1 794.1L1508.9 795.0L1512.9 794.6L1517.0 791.2L1520.8 784.6L1524.6 802.8L1528.8 795.0L1532.5 782.7L1536.5 789.3L1540.3 779.9L1544.5 784.2L1548.3 796.3L1552.4 804.7L1556.2 795.6L1560.6 795.0L1563.4 797.9" stroke="#000" stroke-width="2.80" fill="none" stroke-linejoin="round" stroke-linecap="butt"/>
<text transform="translate(203.0 792.7) rotate(-90)" font-family="'Liberation Serif','Times New Roman',serif" font-size="26.5" style="fill:#464646;stroke:#464646;stroke-width:.15px">[SIII]</text>
<text transform="translate(1061.7 835.6) rotate(-90)" font-family="'DejaVu Sans','Liberation Sans',sans-serif" font-size="26.5" style="fill:#464646;stroke:#464646;stroke-width:.15px">Ca II</text>
<rect x="99.5" y="635.3" width="1464.2" height="475.7" fill="none" stroke="#222" stroke-width="2.8"/>
<path d="M169.2 1111.0 v-32.5M169.2 635.3 v32.5M448.1 1111.0 v-32.5M448.1 635.3 v32.5M727.0 1111.0 v-32.5M727.0 635.3 v32.5M1005.9 1111.0 v-32.5M1005.9 635.3 v32.5M1284.8 1111.0 v-32.5M1284.8 635.3 v32.5M1563.7 1111.0 v-32.5M1563.7 635.3 v32.5" stroke="#222" stroke-width="2.2" fill="none"/>
<path d="M113.4 1111.0 v-8.6M113.4 635.3 v8.6M225.0 1111.0 v-8.6M225.0 635.3 v8.6M280.8 1111.0 v-8.6M280.8 635.3 v8.6M336.6 1111.0 v-8.6M336.6 635.3 v8.6M392.3 1111.0 v-8.6M392.3 635.3 v8.6M503.9 1111.0 v-8.6M503.9 635.3 v8.6M559.7 1111.0 v-8.6M559.7 635.3 v8.6M615.5 1111.0 v-8.6M615.5 635.3 v8.6M671.2 1111.0 v-8.6M671.2 635.3 v8.6M782.8 1111.0 v-8.6M782.8 635.3 v8.6M838.6 1111.0 v-8.6M838.6 635.3 v8.6M894.4 1111.0 v-8.6M894.4 635.3 v8.6M950.1 1111.0 v-8.6M950.1 635.3 v8.6M1061.7 1111.0 v-8.6M1061.7 635.3 v8.6M1117.5 1111.0 v-8.6M1117.5 635.3 v8.6M1173.2 1111.0 v-8.6M1173.2 635.3 v8.6M1229.0 1111.0 v-8.6M1229.0 635.3 v8.6M1340.6 1111.0 v-8.6M1340.6 635.3 v8.6M1396.4 1111.0 v-8.6M1396.4 635.3 v8.6M1452.1 1111.0 v-8.6M1452.1 635.3 v8.6M1507.9 1111.0 v-8.6M1507.9 635.3 v8.6" stroke="#222" stroke-width="2.2" fill="none"/>
<text x="169.2" y="1134.3" font-family="'Liberation Serif','Times New Roman',serif" font-size="21.9" text-anchor="middle">8000</text>
<text x="448.1" y="1134.3" font-family="'Liberation Serif','Times New Roman',serif" font-size="21.9" text-anchor="middle">8200</text>
<text x="727.0" y="1134.3" font-family="'Liberation Serif','Times New Roman',serif" font-size="21.9" text-anchor="middle">8400</text>
<text x="1005.9" y="1134.3" font-family="'Liberation Serif','Times New Roman',serif" font-size="21.9" text-anchor="middle">8600</text>
<text x="1284.8" y="1134.3" font-family="'Liberation Serif','Times New Roman',serif" font-size="21.9" text-anchor="middle">8800</text>
<text x="1563.7" y="1134.3" font-family="'Liberation Serif','Times New Roman',serif" font-size="21.9" text-anchor="middle">9000</text>
<text x="91.3" y="1092.0" font-family="'Liberation Serif','Times New Roman',serif" font-size="21.9" text-anchor="end">0.4</text>
<text x="91.3" y="1035.3" font-family="'Liberation Serif','Times New Roman',serif" font-size="21.9" text-anchor="end">0.6</text>
<text x="91.3" y="978.6" font-family="'Liberation Serif','Times New Roman',serif" font-size="21.9" text-anchor="end">0.8</text>
<text x="91.3" y="921.9" font-family="'Liberation Serif','Times New Roman',serif" font-size="21.9" text-anchor="end">1.0</text>
<text x="91.3" y="865.2" font-family="'Liberation Serif','Times New Roman',serif" font-size="21.9" text-anchor="end">1.2</text>
<text x="91.3" y="808.4" font-family="'Liberation Serif','Times New Roman',serif" font-size="21.9" text-anchor="end">1.4</text>
<text x="91.3" y="751.7" font-family="'Liberation Serif','Times New Roman',serif" font-size="21.9" text-anchor="end">1.6</text>
<text x="91.3" y="695.0" font-family="'Liberation Serif','Times New Roman',serif" font-size="21.9" text-anchor="end">1.8</text>
<path d="M99.5 1084.5 h13.1M1563.7 1084.5 h-13.1M99.5 1027.8 h13.1M1563.7 1027.8 h-13.1M99.5 971.1 h13.1M1563.7 971.1 h-13.1M99.5 914.4 h13.1M1563.7 914.4 h-13.1M99.5 857.7 h13.1M1563.7 857.7 h-13.1M99.5 800.9 h13.1M1563.7 800.9 h-13.1M99.5 744.2 h13.1M1563.7 744.2 h-13.1M99.5 687.5 h13.1M1563.7 687.5 h-13.1" stroke="#222" stroke-width="2.6" fill="none"/>
<text x="146.3" y="692.6" font-family="'Liberation Serif','Times New Roman',serif" font-size="30.6">ID=498, SOAR/GMAN, Sy2, z=0.015</text>
<text y="1175.9" font-size="30.6" font-family="'Liberation Serif','Times New Roman',serif"><tspan x="735.0">Observed</tspan><tspan font-family="'DejaVu Sans','Liberation Sans',sans-serif"><tspan x="860.4">λ</tspan><tspan x="886.2">[</tspan><tspan x="896.9" font-style="italic">Å</tspan><tspan x="916.2">]</tspan></tspan></text>
<text transform="translate(49.4 1047.5) rotate(-90)" font-size="30.6" font-family="'Liberation Serif','Times New Roman',serif">F</text>
<text transform="translate(54.3 1031.2) rotate(-90) scale(1.33 1)" font-size="17.5" font-family="'DejaVu Sans','Liberation Sans',sans-serif">λ</text>
<text transform="translate(49.4 1009.0) rotate(-90)" font-size="30.6" font-family="'DejaVu Sans','Liberation Sans',sans-serif">[(10</text>
<text transform="translate(37.2 946.8) rotate(-90)" font-size="21.4" font-family="'DejaVu Sans','Liberation Sans',sans-serif">−15</text>
<text transform="translate(49.4 894.1) rotate(-90)" font-size="30.6" font-family="'DejaVu Sans','Liberation Sans',sans-serif">erg/s/cm</text>
<text transform="translate(38.0 759.4) rotate(-90)" font-size="21.4" font-family="'DejaVu Sans','Liberation Sans',sans-serif">2</text>
<text transform="translate(49.4 744.1) rotate(-90)" font-size="30.6" font-family="'DejaVu Sans','Liberation Sans',sans-serif">/<tspan font-style="italic">Å</tspan>]</text>
</g>
<g id="panel3">
<clipPath id="clip2"><rect x="99.5" y="1269.3" width="1464.2" height="475.8"/></clipPath>
<path d="M188.7 1745.1 V1366.5M257.2 1745.1 V1366.5M283.0 1745.1 V1366.5M379.8 1745.1 V1366.5M425.5 1745.1 V1366.5M500.4 1745.1 V1366.5M577.2 1745.1 V1366.5M688.3 1745.1 V1366.5M744.8 1745.1 V1366.5M776.2 1745.1 V1366.5M791.6 1745.1 V1366.5M1207.7 1745.1 V1366.5M1228.2 1745.1 V1366.5M1287.5 1745.1 V1366.5M1292.2 1745.1 V1366.5M1298.8 1745.1 V1366.5M1341.6 1745.1 V1366.5M1346.2 1745.1 V1366.5M1476.5 1745.1 V1366.5M1535.8 1745.1 V1366.5" stroke="#9bb0d6" stroke-width="2.25" stroke-dasharray="8.25 3.32" fill="none"/>
<path d="M446.3 1745.1 V1389.1M457.5 1745.1 V1389.1M845.7 1745.1 V1389.1M1076.4 1745.1 V1389.1" stroke="#e09ca1" stroke-width="2.25" stroke-dasharray="8.25 3.32" fill="none"/>
<path clip-path="url(#clip2)" d="M128.0 1760.0L128.0 1560.0L128.3 1564.5L128.8 1654.7L129.2 1560.5L129.6 1642.8L130.1 1561.0L130.5 1656.7L131.0 1574.3L131.4 1492.3L131.9 1556.2L132.3 1642.2L132.8 1562.0L133.2 1661.4L133.7 1572.2L134.1 1654.8L134.6 1557.8L135.0 1652.3L135.8 1619.3L136.3 1624.7L136.8 1609.4L137.3 1673.7L137.8 1624.0L138.3 1622.2L138.8 1586.0L139.3 1686.8L139.8 1657.1L140.3 1627.1L140.8 1634.8L141.3 1667.2L141.8 1648.5L142.3 1634.2L142.8 1647.4L143.3 1711.0L143.8 1700.8L144.3 1623.8L144.8 1638.9L145.3 1634.9L145.8 1596.3L146.3 1632.5L146.8 1630.3L147.3 1682.5L147.8 1653.2L148.3 1618.2L148.8 1673.5L149.3 1650.3L149.8 1617.8L150.3 1645.7L150.8 1645.9L151.3 1639.0L151.8 1660.7L152.0 1625.2L152.7 1655.8L153.4 1675.7L154.2 1673.2L154.9 1677.2L155.6 1677.4L156.3 1683.1L157.0 1642.7L157.8 1673.1L158.5 1631.2L159.2 1650.7L159.9 1630.3L160.6 1676.2L161.4 1680.7L162.1 1656.9L162.8 1687.5L163.5 1649.5L164.2 1662.3L165.0 1662.4L165.7 1643.5L166.4 1665.8L167.1 1684.5L167.8 1651.9L168.6 1675.5L169.3 1664.8L170.0 1688.4L170.7 1674.0L171.4 1676.7L172.2 1676.8L172.9 1672.8L173.6 1654.3L174.3 1686.9L175.0 1593.6L175.8 1674.6L176.5 1700.2L177.2 1660.3L177.9 1670.3L178.6 1680.8L179.4 1665.8L180.1 1654.4L180.8 1627.7L181.5 1646.6L182.2 1647.6L183.0 1645.0L183.7 1636.5L184.4 1649.3L185.1 1636.6L185.8 1640.1L186.6 1647.2L187.3 1627.0L188.0 1629.7L188.7 1655.4L189.4 1638.2L190.2 1613.5L190.9 1630.8L191.6 1642.4L192.3 1653.2L193.0 1642.4L193.8 1635.6L194.5 1634.1L195.2 1650.6L195.9 1647.5L196.6 1638.7L197.4 1621.2L198.1 1641.3L198.8 1655.1L199.5 1639.6L200.2 1654.7L201.0 1662.3L201.7 1661.4L202.4 1649.6L203.1 1674.2L203.8 1658.8L204.6 1670.8L205.3 1662.8L206.0 1656.4L206.7 1676.1L207.4 1677.5L208.2 1674.3L208.9 1677.4L209.6 1669.3L210.0 1668.5L210.9 1673.5L211.8 1691.8L212.7 1682.2L213.6 1670.4L214.5 1678.9L215.4 1668.0L216.3 1666.4L217.2 1676.2L218.1 1662.4L219.0 1652.2L219.9 1658.9L220.8 1667.7L221.7 1668.0L222.6 1677.7L223.5 1660.4L224.4 1673.1L225.3 1670.4L226.2 1665.3L227.1 1673.9L228.0 1670.9L228.9 1658.9L229.8 1675.9L230.7 1655.7L231.6 1666.9L232.5 1666.4L233.4 1670.0L234.3 1659.9L235.2 1665.9L236.1 1664.9L237.0 1674.7L237.9 1658.6L238.8 1665.7L239.7 1661.2L240.6 1645.8L241.5 1663.3L242.4 1620.1L243.3 1611.1L244.2 1651.3L245.1 1635.2L246.0 1648.2L246.9 1652.9L247.8 1641.4L248.7 1645.9L249.6 1647.7L250.5 1653.8L251.4 1642.5L252.3 1647.1L253.2 1657.6L254.1 1668.4L255.0 1665.0L255.9 1674.7L256.8 1665.5L257.7 1654.8L258.6 1658.1L259.5 1641.2L260.4 1650.5L261.3 1649.9L262.2 1661.1L263.1 1664.3L264.0 1653.6L264.9 1653.2L265.8 1644.7L266.7 1657.0L267.6 1660.2L268.5 1662.8L269.4 1653.4L270.3 1653.3L271.2 1673.8L272.1 1664.0L273.0 1661.7L273.9 1665.0L274.8 1669.6L275.7 1668.5L276.6 1673.2L277.5 1676.0L278.4 1681.6L279.3 1680.0L280.2 1669.3L281.1 1674.0L282.0 1667.5L282.9 1642.1L283.8 1688.4L284.7 1667.8L285.6 1689.6L286.5 1669.2L287.4 1674.7L288.3 1682.3L289.2 1673.1L290.1 1676.6L291.0 1671.2L291.9 1669.3L292.8 1672.2L293.7 1668.1L294.6 1688.4L295.5 1672.8L296.4 1689.6L297.3 1651.0L298.2 1675.0L299.1 1679.8L300.0 1671.3L300.9 1680.5L301.8 1675.7L302.7 1667.4L303.6 1671.4L304.5 1688.1L305.4 1667.9L306.3 1668.2L307.2 1662.5L308.1 1666.8L309.0 1655.9L309.9 1664.1L310.8 1684.2L311.7 1673.6L312.6 1670.3L313.5 1673.7L314.4 1679.5L315.3 1669.7L316.2 1680.8L317.1 1673.2L318.0 1666.2L318.9 1678.0L319.8 1646.9L320.7 1660.4L321.6 1666.7L322.5 1657.7L323.4 1663.3L324.3 1659.6L325.2 1659.4L326.1 1684.9L327.0 1669.0L327.9 1663.8L328.8 1674.1L329.7 1662.2L330.6 1670.5L331.5 1666.2L332.4 1675.6L333.3 1652.2L334.2 1668.6L335.1 1663.4L336.0 1653.4L336.9 1670.0L337.8 1655.0L338.7 1673.7L339.6 1665.0L340.5 1666.4L341.4 1661.9L342.3 1668.3L343.2 1647.5L344.1 1662.4L345.0 1657.2L345.9 1664.3L346.8 1662.0L347.7 1667.2L348.6 1656.4L349.5 1676.9L350.4 1680.6L351.3 1661.5L352.2 1663.0L353.1 1665.4L354.0 1672.8L354.9 1677.7L355.8 1654.1L356.7 1658.7L357.6 1655.3L358.5 1655.0L359.4 1651.0L360.3 1666.3L361.2 1654.8L362.1 1675.1L363.0 1670.6L363.9 1655.9L364.8 1656.0L365.7 1659.2L366.6 1674.5L367.5 1657.5L368.4 1652.6L369.3 1663.7L370.2 1666.9L371.1 1659.1L372.0 1676.5L372.9 1666.0L373.8 1667.6L374.7 1657.6L375.6 1663.5L376.5 1661.9L377.4 1644.0L378.3 1649.1L379.2 1570.1L380.1 1525.9L381.0 1575.6L381.9 1668.3L382.8 1671.9L383.7 1677.6L384.6 1678.5L385.5 1663.0L386.4 1656.3L387.3 1669.8L388.2 1677.1L389.1 1666.4L390.0 1666.2L390.9 1662.1L391.8 1643.6L392.7 1655.0L393.6 1665.7L394.5 1646.9L395.4 1635.7L396.3 1647.2L397.2 1644.8L398.1 1651.2L399.0 1642.2L399.9 1649.3L400.8 1633.4L401.7 1655.1L402.6 1660.4L403.5 1658.6L404.4 1639.1L405.3 1652.1L406.2 1629.2L407.1 1652.3L408.0 1650.1L408.9 1643.8L409.8 1653.4L410.7 1654.5L411.6 1663.4L412.5 1661.1L413.4 1667.2L414.3 1660.1L415.2 1670.1L416.1 1666.8L417.0 1664.1L417.9 1660.2L418.8 1668.9L419.7 1650.5L420.6 1654.1L421.5 1657.3L422.4 1653.7L423.3 1658.2L424.2 1646.1L425.1 1644.0L426.0 1626.8L426.9 1653.0L427.8 1652.6L428.7 1663.8L429.6 1643.3L430.5 1656.6L431.4 1649.9L432.3 1654.4L433.2 1661.1L434.1 1644.7L435.0 1643.3L435.9 1645.5L436.8 1654.2L437.7 1639.2L438.6 1653.0L439.5 1643.2L440.4 1644.1L441.3 1649.5L442.2 1655.5L443.1 1652.0L444.0 1656.6L444.9 1672.4L445.8 1684.4L446.7 1687.5L447.6 1686.4L448.5 1671.9L449.4 1659.4L450.3 1659.7L451.2 1650.7L452.1 1645.6L453.0 1643.8L453.9 1650.5L454.8 1656.7L455.7 1665.5L456.6 1663.9L457.5 1670.1L458.4 1663.8L459.3 1659.4L460.2 1647.8L461.1 1640.5L462.0 1635.8L462.9 1633.0L463.8 1628.8L464.7 1631.8L465.6 1629.8L466.5 1625.5L467.4 1625.3L468.3 1617.6L469.2 1619.8L470.1 1615.0L471.0 1616.2L471.9 1622.7L472.8 1616.0L473.7 1606.2L474.6 1615.0L475.5 1612.7L476.4 1608.5L477.3 1612.4L478.2 1622.0L479.1 1626.0L480.0 1614.4L480.9 1622.6L481.8 1623.7L482.7 1611.3L483.6 1617.5L484.5 1617.6L485.4 1619.0L486.3 1609.6L487.2 1616.5L488.1 1624.3L489.0 1625.6L489.9 1628.8L490.8 1617.3L491.7 1629.4L492.6 1623.0L493.5 1612.3L494.4 1623.9L495.3 1618.1L496.2 1623.0L497.1 1619.8L498.0 1627.0L498.9 1628.0L499.8 1631.3L500.7 1640.5L501.6 1631.4L502.5 1625.2L503.4 1632.9L504.3 1623.9L505.2 1622.8L506.1 1623.5L507.0 1618.6L507.9 1623.6L508.8 1636.7L509.7 1621.9L510.6 1626.9L511.5 1621.0L512.4 1623.8L513.3 1635.4L514.2 1632.2L515.1 1624.1L516.0 1627.6L516.9 1623.2L517.8 1623.5L518.7 1622.9L519.6 1623.1L520.5 1629.8L521.4 1631.3L522.3 1630.7L523.2 1627.2L524.1 1620.8L525.0 1627.8L525.9 1623.2L526.8 1633.0L527.7 1631.3L528.6 1632.4L529.5 1626.5L530.4 1618.6L531.3 1633.6L532.2 1635.1L533.1 1620.5L534.0 1629.3L534.9 1635.0L535.8 1622.8L536.7 1638.2L537.6 1626.8L538.5 1622.9L539.4 1636.2L540.3 1630.4L541.2 1625.3L542.1 1633.6L543.0 1618.4L543.9 1638.8L544.8 1624.6L545.7 1630.5L546.6 1626.7L547.5 1631.2L548.4 1633.6L549.3 1624.3L550.2 1632.9L551.1 1627.0L552.0 1624.8L552.9 1627.3L553.8 1623.0L554.7 1624.1L555.6 1633.4L556.5 1627.4L557.4 1634.3L558.3 1630.4L559.2 1622.5L560.1 1618.0L561.0 1626.3L561.9 1633.2L562.8 1633.6L563.7 1633.4L564.6 1648.3L565.5 1638.4L566.4 1640.5L567.3 1643.1L568.2 1649.5L569.1 1636.1L570.0 1625.2L570.9 1630.6L571.8 1629.6L572.7 1629.7L573.6 1621.1L574.5 1617.7L575.4 1621.4L576.3 1621.7L577.2 1626.8L578.1 1628.2L579.0 1611.7L579.9 1611.6L580.8 1612.8L581.7 1610.5L582.6 1613.2L583.5 1612.0L584.4 1609.8L585.3 1614.6L586.2 1606.0L587.1 1602.8L588.0 1601.7L588.9 1606.3L589.8 1610.1L590.7 1609.8L591.6 1627.7L592.5 1625.0L593.4 1618.1L594.3 1612.0L595.2 1605.3L596.1 1608.2L597.0 1622.4L597.9 1599.7L598.8 1611.7L599.7 1614.3L600.6 1610.6L601.5 1608.1L602.4 1613.8L603.3 1603.5L604.2 1612.4L605.1 1617.0L606.0 1603.5L606.9 1604.5L607.8 1609.6L608.7 1614.0L609.6 1615.8L610.5 1611.6L611.4 1605.2L612.3 1603.0L613.2 1609.1L614.1 1609.7L615.0 1602.7L615.9 1607.9L616.8 1609.0L617.7 1612.2L618.6 1602.7L619.5 1609.6L620.4 1601.6L621.3 1605.0L622.2 1606.5L623.1 1613.8L624.0 1622.0L624.9 1607.8L625.8 1608.9L626.7 1611.2L627.6 1600.2L628.5 1610.0L629.4 1600.7L630.3 1613.8L631.2 1612.9L632.1 1608.5L633.0 1602.4L633.9 1613.7L634.8 1607.2L635.7 1606.5L636.6 1608.6L637.5 1598.0L638.4 1607.7L639.3 1610.3L640.2 1607.2L641.1 1606.3L642.0 1601.1L642.9 1608.4L643.8 1606.3L644.7 1605.4L645.6 1602.7L646.5 1609.2L647.4 1610.9L648.3 1606.9L649.2 1609.2L650.1 1611.1L651.0 1612.3L651.9 1606.1L652.8 1604.1L653.7 1603.2L654.6 1605.2L655.5 1607.7L656.4 1609.5L657.3 1603.2L658.2 1605.9L659.1 1600.6L660.0 1611.1L660.9 1603.5L661.8 1606.9L662.7 1602.0L663.6 1604.0L664.5 1602.2L665.4 1613.2L666.3 1607.1L667.2 1604.7L668.1 1601.1L669.0 1602.7L669.9 1608.1L670.8 1613.2L671.7 1599.1L672.6 1601.5L673.5 1605.0L674.4 1603.0L675.3 1598.4L676.2 1606.2L677.1 1609.7L678.0 1599.0L678.9 1607.4L679.8 1610.9L680.7 1610.8L681.6 1604.1L682.5 1616.3L683.4 1608.0L684.3 1601.4L685.2 1609.4L686.1 1599.4L687.0 1608.4L687.9 1598.2L688.8 1606.6L689.7 1599.2L690.6 1605.8L691.5 1603.0L692.4 1601.0L693.3 1599.2L694.2 1603.9L695.1 1590.8L696.0 1600.9L696.9 1600.8L697.8 1601.5L698.7 1602.6L699.6 1615.6L700.5 1599.4L701.4 1602.5L702.3 1599.6L703.2 1605.9L704.1 1589.7L705.0 1606.5L705.9 1595.7L706.8 1588.6L707.7 1593.9L708.6 1598.0L709.5 1599.6L710.4 1598.6L711.3 1602.4L712.2 1598.6L713.1 1598.4L714.0 1589.1L714.9 1600.9L715.8 1603.2L716.7 1596.8L717.6 1590.2L718.5 1592.6L719.4 1606.2L720.3 1595.9L721.2 1595.6L722.1 1594.9L723.0 1601.7L723.9 1595.9L724.8 1594.7L725.7 1591.8L726.6 1598.1L727.5 1603.0L728.4 1597.9L729.3 1602.5L730.2 1599.6L731.1 1600.8L732.0 1602.3L732.9 1603.0L733.8 1608.8L734.7 1607.7L735.6 1603.7L736.5 1607.4L737.4 1607.0L738.3 1610.0L739.2 1609.1L740.1 1610.7L741.0 1602.7L741.9 1611.5L742.8 1615.4L743.7 1596.5L744.6 1588.2L745.5 1572.3L746.4 1589.5L747.3 1597.5L748.2 1613.6L749.1 1604.6L750.0 1606.6L750.9 1611.3L751.8 1604.2L752.7 1604.3L753.6 1603.6L754.5 1608.2L755.4 1611.3L756.3 1610.5L757.2 1610.4L758.1 1607.0L759.0 1609.2L759.9 1605.4L760.8 1617.5L761.7 1609.3L762.6 1599.6L763.5 1603.6L764.4 1615.5L765.3 1602.1L766.2 1606.3L767.1 1610.0L768.0 1603.2L768.9 1612.9L769.8 1615.5L770.7 1603.9L771.6 1612.2L772.5 1602.4L773.4 1600.6L774.3 1599.4L775.2 1566.1L776.1 1511.6L777.0 1531.9L777.9 1574.0L778.8 1598.5L779.7 1600.6L780.6 1600.0L781.5 1563.3L782.4 1559.1L783.3 1589.2L784.2 1608.2L785.1 1610.3L786.0 1600.7L786.9 1603.6L787.8 1609.3L788.7 1607.8L789.6 1597.7L790.5 1550.4L791.4 1432.0L792.3 1382.7L793.2 1486.6L794.1 1574.6L795.0 1601.3L795.9 1604.2L796.8 1617.8L797.7 1609.5L798.6 1608.8L799.5 1608.2L800.4 1608.9L801.3 1608.3L802.2 1612.0L803.1 1609.4L804.0 1613.2L804.9 1606.4L805.8 1611.1L806.7 1613.5L807.6 1604.4L808.5 1610.4L809.4 1610.7L810.3 1608.1L811.2 1607.4L812.1 1601.3L813.0 1614.8L813.9 1605.5L814.8 1604.1L815.7 1612.6L816.6 1601.5L817.5 1614.0L818.4 1611.7L819.3 1612.4L820.2 1609.0L821.1 1604.3L822.0 1601.3L822.9 1616.3L823.8 1607.7L824.7 1607.5L825.6 1616.9L826.5 1607.0L827.4 1608.8L828.3 1608.8L829.2 1609.2L830.1 1605.2L831.0 1607.3L831.9 1615.7L832.8 1613.3L833.7 1596.5L834.6 1601.1L835.5 1611.4L836.4 1609.4L837.3 1608.3L838.2 1614.6L839.1 1601.9L840.0 1615.4L840.9 1610.6L841.8 1612.5L842.7 1621.1L843.6 1636.7L844.5 1634.2L845.4 1622.4L846.3 1617.9L847.2 1610.8L848.1 1601.8L849.0 1610.9L849.9 1607.7L850.8 1608.5L851.7 1602.3L852.6 1603.5L853.5 1600.2L854.4 1597.5L855.3 1602.2L856.2 1602.6L857.1 1598.8L858.0 1610.0L858.9 1594.5L859.8 1598.1L860.7 1598.7L861.6 1607.5L862.5 1600.5L863.4 1600.2L864.3 1597.7L865.2 1598.2L866.1 1595.7L867.0 1606.1L867.9 1604.3L868.8 1606.0L869.7 1598.5L870.6 1613.6L871.5 1599.0L872.4 1595.3L873.3 1604.4L874.2 1614.4L875.1 1627.1L876.0 1615.3L876.9 1611.8L877.8 1609.0L878.7 1595.5L879.6 1594.0L880.5 1588.9L881.4 1597.7L882.3 1600.5L883.2 1600.1L884.1 1600.5L885.0 1603.1L885.9 1597.4L886.8 1601.1L887.7 1592.6L888.6 1593.4L889.5 1598.1L890.4 1593.9L891.3 1601.5L892.2 1606.5L893.1 1603.5L894.0 1599.7L894.9 1599.6L895.8 1609.2L896.7 1599.4L897.6 1603.5L898.5 1601.9L899.4 1603.3L900.3 1608.0L901.2 1600.7L902.1 1596.8L903.0 1609.7L903.9 1604.1L904.8 1606.4L905.7 1603.1L906.6 1606.7L907.5 1608.9L908.4 1609.4L909.3 1602.0L910.2 1601.7L911.1 1605.0L912.0 1604.2L912.9 1605.8L913.8 1600.1L914.7 1592.8L915.6 1605.3L916.5 1606.8L917.4 1606.2L918.3 1610.8L919.2 1607.2L920.1 1601.6L921.0 1607.8L921.9 1603.0L922.8 1609.1L923.7 1604.5L924.6 1605.5L925.5 1604.5L926.4 1603.7L927.3 1596.8L928.2 1603.7L929.1 1593.1L930.0 1604.4L930.9 1548.5L931.8 1607.8L932.7 1603.8L933.6 1601.2L934.5 1599.1L935.4 1607.1L936.3 1599.3L937.2 1604.5L938.1 1597.0L939.0 1602.1L939.9 1603.7L940.8 1602.8L941.7 1601.8L942.6 1599.9L943.5 1599.7L944.4 1604.0L945.3 1602.5L946.2 1601.1L947.1 1601.8L948.0 1599.1L948.9 1603.5L949.8 1603.9L950.7 1599.1L951.6 1601.0L952.5 1603.0L953.4 1599.0L954.3 1605.0L955.2 1603.7L956.1 1599.4L957.0 1602.2L957.9 1603.6L958.8 1596.8L959.7 1601.0L960.6 1599.1L961.5 1598.8L962.4 1600.8L963.3 1597.9L964.2 1595.7L965.1 1595.5L966.0 1598.6L966.9 1599.9L967.8 1598.3L968.7 1597.8L969.6 1598.0L970.5 1601.0L971.4 1599.3L972.3 1596.4L973.2 1597.5L974.1 1601.0L975.0 1596.9L975.9 1597.4L976.8 1598.3L977.7 1595.9L978.6 1600.5L979.5 1593.4L980.4 1601.8L981.3 1597.5L982.2 1595.7L983.1 1599.3L984.0 1594.7L984.9 1599.9L985.8 1600.4L986.7 1597.3L987.6 1597.7L988.5 1600.7L989.4 1501.0L990.3 1598.5L991.2 1599.2L992.1 1602.0L993.0 1597.2L993.9 1598.4L994.8 1600.9L995.7 1592.3L996.6 1597.6L997.5 1593.7L998.4 1593.9L999.3 1602.6L1000.2 1598.5L1001.1 1601.4L1002.0 1597.4L1002.9 1599.1L1003.8 1596.9L1004.7 1596.6L1005.6 1597.6L1006.5 1598.0L1007.4 1601.1L1008.3 1551.1L1009.2 1598.4L1010.1 1596.8L1011.0 1597.7L1011.9 1594.3L1012.8 1599.7L1013.7 1595.9L1014.6 1597.2L1015.5 1596.5L1016.4 1599.2L1017.3 1598.1L1018.2 1596.2L1019.1 1594.0L1020.0 1592.2L1020.9 1591.2L1021.8 1589.9L1022.7 1592.8L1023.6 1594.1L1024.5 1590.2L1025.4 1582.8L1026.3 1594.5L1027.2 1596.0L1028.1 1586.4L1029.0 1586.2L1029.9 1579.9L1030.8 1590.6L1031.7 1583.8L1032.6 1594.6L1033.5 1578.2L1034.4 1587.8L1035.3 1590.1L1036.2 1585.9L1037.1 1584.4L1038.0 1588.4L1038.9 1585.4L1039.8 1586.0L1040.7 1587.2L1041.6 1585.2L1042.5 1586.4L1043.4 1590.2L1044.3 1585.7L1045.2 1587.8L1046.1 1584.3L1047.0 1590.6L1047.9 1582.2L1048.8 1590.7L1049.7 1575.5L1050.6 1583.6L1051.5 1581.0L1052.4 1590.9L1053.3 1588.1L1054.2 1582.1L1055.1 1584.9L1056.0 1592.2L1056.9 1586.9L1057.8 1589.3L1058.7 1581.4L1059.6 1581.5L1060.5 1589.4L1061.4 1596.0L1062.3 1585.2L1063.2 1589.5L1064.1 1583.7L1065.0 1592.0L1065.9 1585.6L1066.8 1585.7L1067.7 1580.1L1068.6 1585.8L1069.5 1588.1L1070.4 1582.6L1071.3 1583.9L1072.2 1595.0L1073.1 1592.9L1074.0 1598.8L1074.9 1605.5L1075.8 1614.0L1076.7 1624.4L1077.6 1625.5L1078.5 1610.5L1079.4 1604.6L1080.3 1605.4L1081.2 1595.7L1082.1 1601.5L1083.0 1599.0L1083.9 1600.7L1084.8 1602.4L1085.7 1599.8L1086.6 1599.6L1087.5 1601.9L1088.4 1601.6L1089.3 1598.2L1090.2 1599.4L1091.1 1596.5L1092.0 1603.0L1092.9 1596.7L1093.8 1600.2L1094.7 1604.0L1095.6 1601.6L1096.5 1598.9L1097.4 1597.7L1098.3 1597.9L1099.2 1601.8L1100.1 1600.3L1101.0 1599.4L1101.9 1605.8L1102.8 1597.2L1103.7 1598.0L1104.6 1598.3L1105.5 1599.7L1106.4 1599.9L1107.3 1598.4L1108.2 1600.9L1109.1 1600.3L1110.0 1598.2L1110.9 1592.7L1111.8 1600.7L1112.7 1596.3L1113.6 1596.9L1114.5 1598.1L1115.4 1595.2L1116.3 1596.2L1117.2 1598.3L1118.1 1597.2L1119.0 1598.7L1119.9 1595.7L1120.8 1597.2L1121.7 1595.0L1122.6 1596.8L1123.5 1598.2L1124.4 1596.8L1125.3 1593.7L1126.2 1596.7L1127.1 1597.5L1128.0 1599.9L1128.9 1596.8L1129.8 1595.8L1130.7 1593.9L1131.6 1601.7L1132.5 1594.2L1133.4 1593.7L1134.3 1596.1L1135.2 1591.8L1136.1 1598.9L1137.0 1596.6L1137.9 1597.3L1138.8 1593.6L1139.7 1594.7L1140.6 1598.0L1141.5 1598.3L1142.4 1603.4L1143.3 1599.4L1144.2 1592.3L1145.1 1597.6L1146.0 1596.8L1146.9 1600.8L1147.8 1598.2L1148.7 1600.0L1149.6 1600.0L1150.5 1605.6L1151.4 1616.6L1152.3 1636.0L1153.2 1634.8L1154.1 1623.5L1155.0 1627.3L1155.9 1620.4L1156.8 1616.3L1157.7 1612.7L1158.6 1618.5L1159.5 1614.8L1160.4 1612.4L1161.3 1609.8L1162.2 1610.2L1163.1 1609.1L1164.0 1611.5L1164.9 1613.4L1165.8 1601.8L1166.7 1603.0L1167.6 1607.0L1168.5 1607.4L1169.4 1601.8L1170.3 1604.9L1171.2 1605.7L1172.1 1605.5L1173.0 1605.4L1173.9 1606.7L1174.8 1610.0L1175.7 1609.4L1176.6 1608.9L1177.5 1607.8L1178.4 1604.4L1179.3 1605.2L1180.2 1609.2L1181.1 1607.6L1182.0 1610.2L1182.9 1608.6L1183.8 1608.2L1184.7 1609.8L1185.6 1603.3L1186.5 1608.3L1187.4 1607.2L1188.3 1612.5L1189.2 1607.8L1190.1 1611.3L1191.0 1609.4L1191.9 1612.9L1192.8 1614.2L1193.7 1611.4L1194.6 1609.9L1195.5 1606.1L1196.4 1605.8L1197.3 1601.7L1198.2 1602.7L1199.1 1600.8L1200.0 1598.7L1200.9 1602.2L1201.8 1602.8L1202.7 1598.3L1203.6 1606.1L1204.5 1597.9L1205.4 1601.1L1206.3 1596.0L1207.2 1585.4L1208.1 1588.7L1209.0 1584.1L1209.9 1592.0L1210.8 1596.1L1211.7 1601.3L1212.6 1598.9L1213.5 1591.5L1214.4 1595.5L1215.3 1601.8L1216.2 1597.3L1217.1 1602.7L1218.0 1594.3L1218.9 1594.8L1219.8 1592.1L1220.7 1595.4L1221.6 1601.0L1222.5 1593.6L1223.4 1599.6L1224.3 1598.3L1225.2 1599.4L1226.1 1595.8L1227.0 1596.8L1227.9 1604.0L1228.8 1592.5L1229.7 1599.3L1230.6 1601.9L1231.5 1598.3L1232.4 1602.4L1233.3 1586.6L1234.2 1595.7L1235.1 1592.9L1236.0 1597.0L1236.9 1599.7L1237.8 1603.2L1238.7 1600.3L1239.6 1608.0L1240.5 1601.6L1241.4 1612.2L1242.3 1608.6L1243.2 1601.1L1244.1 1598.9L1245.0 1596.5L1245.9 1597.9L1246.8 1600.3L1247.7 1603.1L1248.6 1599.9L1249.5 1591.3L1250.4 1587.3L1251.3 1594.1L1252.2 1590.2L1253.1 1594.5L1254.0 1592.7L1254.9 1603.8L1255.8 1589.2L1256.7 1596.1L1257.6 1601.4L1258.5 1593.7L1259.4 1592.4L1260.3 1600.8L1261.2 1587.8L1262.1 1589.2L1263.0 1590.8L1263.9 1596.4L1264.8 1597.7L1265.7 1594.6L1266.6 1602.5L1267.5 1594.3L1268.4 1595.0L1269.3 1594.0L1270.2 1599.3L1271.1 1595.1L1272.0 1593.7L1272.9 1600.9L1273.8 1599.5L1274.7 1598.6L1275.6 1590.8L1276.5 1591.5L1277.4 1594.3L1278.3 1594.3L1279.2 1593.7L1280.1 1594.4L1281.0 1597.4L1281.9 1591.7L1282.8 1595.9L1283.7 1593.6L1284.6 1590.0L1285.5 1585.5L1286.4 1583.1L1287.3 1565.0L1288.2 1534.4L1289.1 1540.6L1290.0 1567.0L1290.9 1575.3L1291.8 1536.3L1292.7 1466.8L1293.6 1447.5L1294.5 1511.3L1295.4 1566.9L1296.3 1581.2L1297.2 1580.3L1298.1 1538.1L1299.0 1491.3L1299.9 1506.6L1300.8 1566.1L1301.7 1598.6L1302.6 1596.1L1303.5 1604.4L1304.4 1599.4L1305.3 1601.8L1306.2 1596.5L1307.1 1593.1L1308.0 1599.4L1308.9 1602.3L1309.8 1592.0L1310.7 1597.4L1311.6 1598.4L1312.5 1599.8L1313.4 1593.7L1314.3 1595.6L1315.2 1601.0L1316.1 1604.2L1317.0 1598.0L1317.9 1601.2L1318.8 1598.3L1319.7 1599.3L1320.6 1596.3L1321.5 1596.9L1322.4 1595.6L1323.3 1598.1L1324.2 1601.7L1325.1 1598.4L1326.0 1600.1L1326.9 1595.4L1327.8 1600.3L1328.7 1586.3L1329.6 1592.6L1330.5 1596.5L1331.4 1591.2L1332.3 1599.8L1333.2 1598.5L1334.1 1594.4L1335.0 1598.1L1335.9 1592.3L1336.8 1594.4L1337.7 1595.8L1338.6 1588.1L1339.5 1585.3L1340.4 1557.1L1341.3 1550.9L1342.2 1559.7L1343.1 1583.5L1344.0 1589.1L1344.9 1585.9L1345.8 1571.2L1346.7 1564.4L1347.6 1575.3L1348.5 1584.0L1349.4 1596.8L1350.3 1603.2L1351.2 1606.0L1352.1 1602.7L1353.0 1601.7L1353.9 1601.1L1354.8 1603.2L1355.7 1604.1L1356.6 1600.8L1357.5 1602.2L1358.4 1606.1L1359.3 1603.4L1360.0 1600.6L1360.6 1614.4L1361.2 1629.0L1361.8 1643.2L1362.4 1658.8L1363.0 1669.2L1363.6 1687.9L1364.2 1699.4L1364.8 1685.6L1365.4 1663.3L1366.0 1659.2L1366.6 1647.3L1367.2 1633.8L1367.8 1615.6L1368.4 1621.4L1369.0 1640.1L1369.3 1655.6L1369.7 1645.2L1370.0 1660.8L1370.3 1645.6L1370.6 1662.8L1371.0 1646.1L1371.3 1668.4L1371.6 1641.8L1372.0 1663.6L1372.3 1640.6L1372.6 1661.0L1373.0 1640.1L1373.3 1659.5L1373.6 1640.1L1373.9 1659.1L1374.3 1634.1L1374.6 1656.2L1374.9 1634.1L1375.3 1652.9L1375.6 1623.9L1375.9 1654.6L1376.3 1628.4L1376.6 1654.1L1376.9 1621.4L1377.2 1641.2L1377.6 1618.4L1377.9 1642.7L1378.2 1612.8L1378.6 1640.1L1378.9 1615.4L1379.2 1638.4L1379.6 1612.5L1379.9 1630.1L1380.2 1610.8L1380.5 1628.5L1380.9 1612.1L1381.2 1629.5L1381.5 1606.3L1381.9 1626.2L1382.2 1608.4L1382.5 1623.7L1382.9 1605.6L1383.2 1619.0L1383.5 1607.5L1383.8 1620.6L1384.2 1604.3L1384.5 1619.5L1384.8 1605.5L1385.2 1616.0L1385.5 1606.5L1385.8 1614.6L1386.2 1605.8L1386.5 1615.3L1386.8 1602.8L1387.1 1611.4L1387.5 1604.4L1387.8 1610.3L1388.1 1602.1L1388.5 1610.8L1388.8 1601.8L1389.1 1609.8L1389.5 1602.6L1389.8 1607.2L1390.1 1600.6L1390.4 1605.8L1390.8 1599.3L1391.1 1604.8L1391.4 1599.2L1391.8 1602.0L1392.0 1533.9L1392.9 1591.0L1393.8 1585.1L1394.7 1595.6L1395.6 1602.7L1396.5 1603.1L1397.4 1591.7L1398.3 1598.4L1399.2 1600.7L1400.1 1594.4L1401.0 1587.8L1401.9 1600.8L1402.8 1593.7L1403.7 1593.4L1404.6 1601.5L1405.5 1596.5L1406.4 1547.8L1407.3 1600.6L1408.2 1593.6L1409.1 1590.2L1410.0 1597.0L1410.9 1593.8L1411.8 1596.5L1412.7 1595.1L1413.6 1590.4L1414.5 1593.3L1415.4 1591.8L1416.3 1592.1L1417.2 1592.8L1418.1 1557.3L1419.0 1593.7L1419.9 1587.9L1420.8 1595.3L1421.7 1587.2L1422.6 1601.4L1423.5 1589.7L1424.4 1592.4L1425.3 1597.8L1426.2 1565.7L1427.1 1587.5L1428.0 1586.8L1428.9 1593.4L1429.8 1593.9L1430.7 1595.5L1431.6 1593.2L1432.5 1590.2L1433.4 1593.9L1434.3 1597.6L1435.2 1588.8L1436.1 1581.9L1437.0 1590.2L1437.9 1596.7L1438.8 1599.1L1439.7 1573.3L1440.6 1593.2L1441.5 1595.5L1442.4 1598.5L1443.3 1583.5L1444.2 1596.2L1445.1 1593.4L1446.0 1592.9L1446.9 1576.6L1447.8 1597.4L1448.7 1599.2L1449.6 1595.6L1450.5 1602.6L1451.4 1590.0L1452.3 1594.4L1453.2 1593.5L1454.1 1576.7L1455.0 1596.4L1455.9 1600.4L1456.8 1595.3L1457.7 1603.4L1458.6 1601.4L1459.5 1596.5L1460.4 1591.9L1461.3 1593.9L1462.2 1592.6L1463.1 1603.5L1464.0 1601.7L1464.9 1593.8L1465.8 1606.2L1466.7 1597.7L1467.6 1545.1L1468.5 1603.2L1469.4 1604.1L1470.3 1599.0L1471.2 1595.6L1472.1 1581.9L1473.0 1597.2L1473.9 1599.1L1474.8 1601.1L1475.7 1586.5L1476.6 1597.5L1477.5 1595.3L1478.4 1602.4L1479.3 1590.8L1480.2 1600.8L1481.1 1600.6L1482.0 1601.9L1482.9 1598.1L1483.8 1600.6L1484.7 1603.2L1485.6 1571.3L1486.5 1600.1L1487.4 1601.5L1488.3 1594.5L1489.2 1595.9L1490.1 1606.8L1491.0 1604.5L1491.9 1596.9L1492.8 1603.3L1493.7 1602.0L1494.6 1606.3L1495.5 1605.2L1496.4 1589.9L1497.3 1599.1L1498.2 1606.4L1499.1 1607.5L1500.0 1597.9L1500.9 1595.2L1501.8 1601.6L1502.7 1597.8L1503.6 1600.4L1504.5 1595.5L1505.4 1603.8L1506.3 1603.0L1507.2 1602.5L1508.1 1595.8L1509.0 1593.2L1509.9 1595.0L1510.8 1602.7L1511.7 1592.8L1512.6 1603.3L1513.5 1608.2L1514.4 1597.8L1515.3 1599.7L1516.2 1604.8L1517.1 1583.5L1518.0 1597.9L1518.9 1599.8L1519.8 1601.0L1520.7 1600.4L1521.6 1605.3L1522.5 1605.5L1523.4 1613.0L1524.3 1603.3L1525.2 1615.9L1526.1 1610.4L1527.0 1602.5L1527.9 1602.4L1528.8 1602.3L1529.7 1596.9L1530.6 1592.1L1531.5 1593.0L1532.4 1588.4L1533.3 1585.4L1534.2 1586.9L1535.1 1587.0L1536.0 1590.7L1536.9 1592.9L1537.8 1590.2L1538.7 1595.0L1539.6 1588.0L1540.5 1585.2L1541.4 1584.5L1542.3 1583.3L1543.2 1585.5L1544.1 1592.4L1545.0 1579.7L1545.9 1587.9L1546.8 1585.0L1547.7 1588.1L1548.6 1582.0L1549.5 1586.6L1550.4 1580.8L1551.3 1585.1L1552.2 1573.5L1553.1 1583.5L1554.0 1584.0L1554.9 1573.5L1555.8 1583.4L1556.7 1576.9L1557.6 1564.7L1558.5 1587.2L1559.4 1592.9L1560.3 1591.8L1561.2 1583.1L1562.1 1585.9" stroke="#000" stroke-width="2.60" fill="none" stroke-linejoin="round" stroke-linecap="butt"/>
<text transform="translate(206.8 1417.9) rotate(-90)" font-family="'Liberation Serif','Times New Roman',serif" font-size="26.5" style="fill:#1e1e1e;stroke:#1e1e1e;stroke-width:.15px">OIII</text>
<text transform="translate(301.9 1417.9) rotate(-90)" font-family="'Liberation Serif','Times New Roman',serif" font-size="26.5" style="fill:#1e1e1e;stroke:#1e1e1e;stroke-width:.15px">[NeV]</text>
<text transform="translate(398.7 1399.8) rotate(-90)" font-family="'Liberation Serif','Times New Roman',serif" font-size="26.5" style="fill:#1e1e1e;stroke:#1e1e1e;stroke-width:.15px">[OII]</text>
<text transform="translate(475.6 1436.4) rotate(-90)" font-family="'Liberation Serif','Times New Roman',serif" font-size="26.5" style="fill:#464646;stroke:#464646;stroke-width:.15px">Ca H+K</text>
<text transform="translate(519.0 1400.8) rotate(-90)" font-family="'Liberation Serif','Times New Roman',serif" font-size="26.5" style="fill:#1e1e1e;stroke:#1e1e1e;stroke-width:.15px">H<tspan font-family="'DejaVu Sans','Liberation Sans',sans-serif" font-style="italic" font-size="25.2">δ</tspan></text>
<text transform="translate(594.5 1419.5) rotate(-90)" font-family="'Liberation Serif','Times New Roman',serif" font-size="26.5" style="fill:#1e1e1e;stroke:#1e1e1e;stroke-width:.15px">H<tspan font-family="'DejaVu Sans','Liberation Sans',sans-serif" font-style="italic" font-size="25.2">γ</tspan></text>
<text transform="translate(706.4 1399.8) rotate(-90)" font-family="'Liberation Serif','Times New Roman',serif" font-size="26.5" style="fill:#1e1e1e;stroke:#1e1e1e;stroke-width:.15px">HeII</text>
<text transform="translate(764.3 1419.2) rotate(-90)" font-family="'Liberation Serif','Times New Roman',serif" font-size="26.5" style="fill:#1e1e1e;stroke:#1e1e1e;stroke-width:.15px">H<tspan font-family="'DejaVu Sans','Liberation Sans',sans-serif" font-style="italic" font-size="25.2">β</tspan></text>
<text transform="translate(810.5 1417.9) rotate(-90)" font-family="'Liberation Serif','Times New Roman',serif" font-size="26.5" style="fill:#1e1e1e;stroke:#1e1e1e;stroke-width:.15px">[OIII]</text>
<text transform="translate(864.6 1436.4) rotate(-90)" font-family="'Liberation Serif','Times New Roman',serif" font-size="26.5" style="fill:#464646;stroke:#464646;stroke-width:.15px">Mgb</text>
<text transform="translate(1094.5 1436.4) rotate(-90)" font-family="'Liberation Serif','Times New Roman',serif" font-size="26.5" style="fill:#464646;stroke:#464646;stroke-width:.15px">NaI</text>
<text transform="translate(1226.6 1399.8) rotate(-90)" font-family="'Liberation Serif','Times New Roman',serif" font-size="26.5" style="fill:#1e1e1e;stroke:#1e1e1e;stroke-width:.15px">[OI]</text>
<text transform="translate(1317.7 1417.9) rotate(-90)" font-family="'Liberation Serif','Times New Roman',serif" font-size="26.5" style="fill:#1e1e1e;stroke:#1e1e1e;stroke-width:.15px">H<tspan font-family="'DejaVu Sans','Liberation Sans',sans-serif" font-style="italic" font-size="25.2">α</tspan>+[NII]</text>
<text transform="translate(1360.5 1417.9) rotate(-90)" font-family="'Liberation Serif','Times New Roman',serif" font-size="26.5" style="fill:#1e1e1e;stroke:#1e1e1e;stroke-width:.15px">[SII]</text>
<text transform="translate(1495.4 1417.9) rotate(-90)" font-family="'Liberation Serif','Times New Roman',serif" font-size="26.5" style="fill:#1e1e1e;stroke:#1e1e1e;stroke-width:.15px">[ArIII]</text>
<text transform="translate(1554.7 1399.8) rotate(-90)" font-family="'Liberation Serif','Times New Roman',serif" font-size="26.5" style="fill:#1e1e1e;stroke:#1e1e1e;stroke-width:.15px">[O II]</text>
<rect x="99.5" y="1269.3" width="1464.2" height="475.8" fill="none" stroke="#222" stroke-width="2.8"/>
<path d="M329.2 1745.1 v-32.5M329.2 1269.3 v32.5M616.3 1745.1 v-32.5M616.3 1269.3 v32.5M903.4 1745.1 v-32.5M903.4 1269.3 v32.5M1190.5 1745.1 v-32.5M1190.5 1269.3 v32.5M1477.6 1745.1 v-32.5M1477.6 1269.3 v32.5" stroke="#222" stroke-width="2.2" fill="none"/>
<path d="M99.5 1745.1 v-8.6M99.5 1269.3 v8.6M156.9 1745.1 v-8.6M156.9 1269.3 v8.6M214.3 1745.1 v-8.6M214.3 1269.3 v8.6M271.8 1745.1 v-8.6M271.8 1269.3 v8.6M386.6 1745.1 v-8.6M386.6 1269.3 v8.6M444.0 1745.1 v-8.6M444.0 1269.3 v8.6M501.4 1745.1 v-8.6M501.4 1269.3 v8.6M558.9 1745.1 v-8.6M558.9 1269.3 v8.6M673.7 1745.1 v-8.6M673.7 1269.3 v8.6M731.1 1745.1 v-8.6M731.1 1269.3 v8.6M788.5 1745.1 v-8.6M788.5 1269.3 v8.6M846.0 1745.1 v-8.6M846.0 1269.3 v8.6M960.8 1745.1 v-8.6M960.8 1269.3 v8.6M1018.2 1745.1 v-8.6M1018.2 1269.3 v8.6M1075.6 1745.1 v-8.6M1075.6 1269.3 v8.6M1133.1 1745.1 v-8.6M1133.1 1269.3 v8.6M1247.9 1745.1 v-8.6M1247.9 1269.3 v8.6M1305.3 1745.1 v-8.6M1305.3 1269.3 v8.6M1362.7 1745.1 v-8.6M1362.7 1269.3 v8.6M1420.2 1745.1 v-8.6M1420.2 1269.3 v8.6M1535.0 1745.1 v-8.6M1535.0 1269.3 v8.6" stroke="#222" stroke-width="2.2" fill="none"/>
<text x="329.2" y="1768.4" font-family="'Liberation Serif','Times New Roman',serif" font-size="21.9" text-anchor="middle">4000</text>
<text x="616.3" y="1768.4" font-family="'Liberation Serif','Times New Roman',serif" font-size="21.9" text-anchor="middle">5000</text>
<text x="903.4" y="1768.4" font-family="'Liberation Serif','Times New Roman',serif" font-size="21.9" text-anchor="middle">6000</text>
<text x="1190.5" y="1768.4" font-family="'Liberation Serif','Times New Roman',serif" font-size="21.9" text-anchor="middle">7000</text>
<text x="1477.6" y="1768.4" font-family="'Liberation Serif','Times New Roman',serif" font-size="21.9" text-anchor="middle">8000</text>
<text x="91.3" y="1739.7" font-family="'Liberation Serif','Times New Roman',serif" font-size="21.9" text-anchor="end">0.0</text>
<text x="91.3" y="1638.9" font-family="'Liberation Serif','Times New Roman',serif" font-size="21.9" text-anchor="end">0.2</text>
<text x="91.3" y="1538.1" font-family="'Liberation Serif','Times New Roman',serif" font-size="21.9" text-anchor="end">0.4</text>
<text x="91.3" y="1437.3" font-family="'Liberation Serif','Times New Roman',serif" font-size="21.9" text-anchor="end">0.6</text>
<text x="91.3" y="1336.5" font-family="'Liberation Serif','Times New Roman',serif" font-size="21.9" text-anchor="end">0.8</text>
<path d="M99.5 1732.2 h13.1M1563.7 1732.2 h-13.1M99.5 1631.4 h13.1M1563.7 1631.4 h-13.1M99.5 1530.6 h13.1M1563.7 1530.6 h-13.1M99.5 1429.8 h13.1M1563.7 1429.8 h-13.1M99.5 1329.0 h13.1M1563.7 1329.0 h-13.1" stroke="#222" stroke-width="2.6" fill="none"/>
<text x="146.3" y="1326.6" font-family="'Liberation Serif','Times New Roman',serif" font-size="30.6">ID=1164, Magellan/MAGE, Sy1.9, z=0.120</text>
<text y="1810.0" font-size="30.6" font-family="'Liberation Serif','Times New Roman',serif"><tspan x="735.0">Observed</tspan><tspan font-family="'DejaVu Sans','Liberation Sans',sans-serif"><tspan x="860.4">λ</tspan><tspan x="886.2">[</tspan><tspan x="896.9" font-style="italic">Å</tspan><tspan x="916.2">]</tspan></tspan></text>
<text transform="translate(49.4 1681.5) rotate(-90)" font-size="30.6" font-family="'Liberation Serif','Times New Roman',serif">F</text>
<text transform="translate(54.3 1665.3) rotate(-90) scale(1.33 1)" font-size="17.5" font-family="'DejaVu Sans','Liberation Sans',sans-serif">λ</text>
<text transform="translate(49.4 1643.1) rotate(-90)" font-size="30.6" font-family="'DejaVu Sans','Liberation Sans',sans-serif">[(10</text>
<text transform="translate(37.2 1580.8) rotate(-90)" font-size="21.4" font-family="'DejaVu Sans','Liberation Sans',sans-serif">−15</text>
<text transform="translate(49.4 1528.2) rotate(-90)" font-size="30.6" font-family="'DejaVu Sans','Liberation Sans',sans-serif">erg/s/cm</text>
<text transform="translate(38.0 1393.4) rotate(-90)" font-size="21.4" font-family="'DejaVu Sans','Liberation Sans',sans-serif">2</text>
<text transform="translate(49.4 1378.2) rotate(-90)" font-size="30.6" font-family="'DejaVu Sans','Liberation Sans',sans-serif">/<tspan font-style="italic">Å</tspan>]</text>
</g>
</svg></body></html>
